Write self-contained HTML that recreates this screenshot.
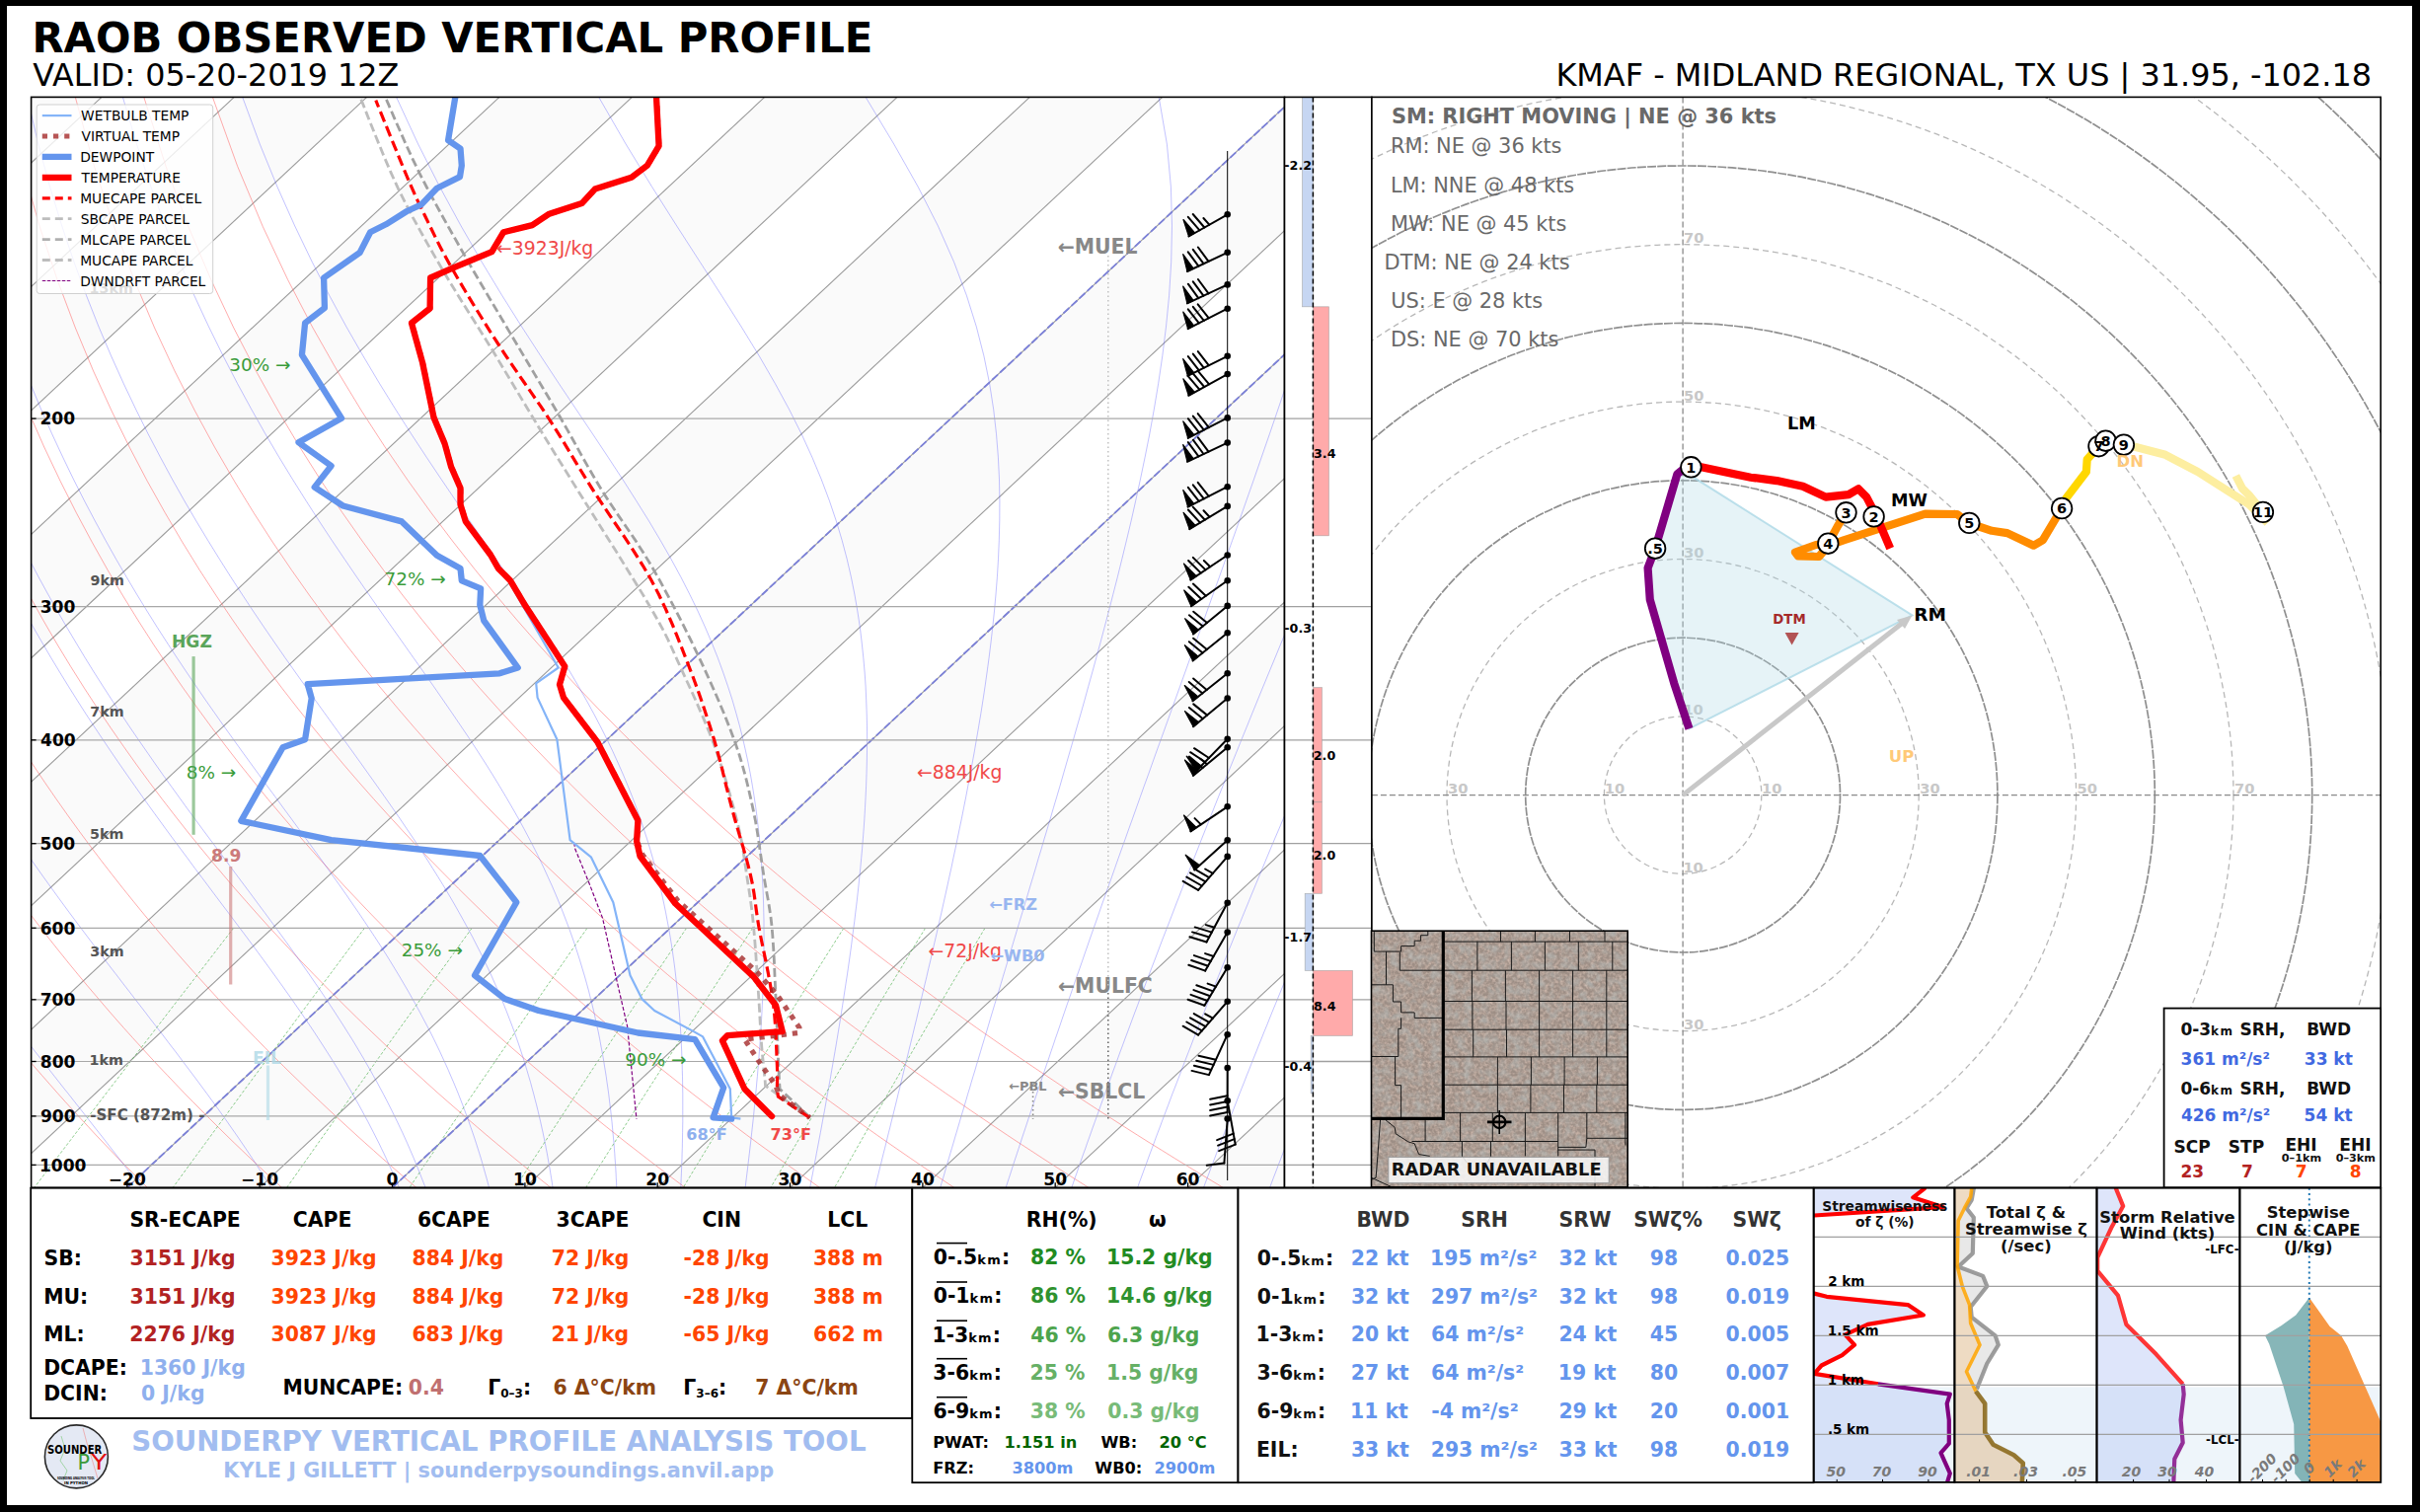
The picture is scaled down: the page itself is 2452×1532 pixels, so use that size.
<!DOCTYPE html>
<html><head><meta charset="utf-8"><title>RAOB Observed Vertical Profile</title>
<style>html,body{margin:0;padding:0;background:#000;overflow:hidden}svg{display:block}
text{font-family:"DejaVu Sans","Liberation Sans",sans-serif}</style></head>
<body><svg width="2452" height="1532" viewBox="0 0 2452 1532">
<rect width="2452" height="1532" fill="#000"/>
<rect x="7" y="6" width="2437" height="1519" fill="#fff"/>
<text x="32.4" y="53.3" font-size="41.8" fill="#000" font-weight="bold" >RAOB OBSERVED VERTICAL PROFILE</text>
<text x="33.3" y="87.3" font-size="31.8" fill="#000" >VALID: 05-20-2019 12Z</text>
<text x="2403.1" y="87.3" font-size="31.9" fill="#000" text-anchor="end" >KMAF - MIDLAND REGIONAL, TX US | 31.95, -102.18</text>
<clipPath id="cs"><rect x="31.6" y="98.4" width="1269.9" height="1104.8999999999999"/></clipPath>
<g clip-path="url(#cs)">
<rect x="31.6" y="98.4" width="1269.9" height="1104.9" fill="#fff" />
<polygon points="-2289.5,1203.3 -2155.2,1203.3 -971.8,98.4 -1106.2,98.4" fill="#fafafa"/>
<polygon points="-2020.8,1203.3 -1886.5,1203.3 -703.1,98.4 -837.5,98.4" fill="#fafafa"/>
<polygon points="-1752.1,1203.3 -1617.8,1203.3 -434.4,98.4 -568.8,98.4" fill="#fafafa"/>
<polygon points="-1483.4,1203.3 -1349.1,1203.3 -165.7,98.4 -300.1,98.4" fill="#fafafa"/>
<polygon points="-1214.7,1203.3 -1080.4,1203.3 103,98.4 -31.4,98.4" fill="#fafafa"/>
<polygon points="-946,1203.3 -811.7,1203.3 371.7,98.4 237.3,98.4" fill="#fafafa"/>
<polygon points="-677.3,1203.3 -543,1203.3 640.4,98.4 506,98.4" fill="#fafafa"/>
<polygon points="-408.6,1203.3 -274.3,1203.3 909.1,98.4 774.7,98.4" fill="#fafafa"/>
<polygon points="-139.9,1203.3 -5.6,1203.3 1177.8,98.4 1043.4,98.4" fill="#fafafa"/>
<polygon points="128.8,1203.3 263.1,1203.3 1446.5,98.4 1312.1,98.4" fill="#fafafa"/>
<polygon points="397.5,1203.3 531.8,1203.3 1715.2,98.4 1580.8,98.4" fill="#fafafa"/>
<polygon points="666.2,1203.3 800.5,1203.3 1983.9,98.4 1849.5,98.4" fill="#fafafa"/>
<polygon points="934.9,1203.3 1069.2,1203.3 2252.6,98.4 2118.2,98.4" fill="#fafafa"/>
<polygon points="1203.6,1203.3 1337.9,1203.3 2521.3,98.4 2386.9,98.4" fill="#fafafa"/>
<line x1="-2289.5" y1="1203.3" x2="-1106.2" y2="98.4" stroke="#9a9a9a" stroke-width="1.1" />
<line x1="-2155.2" y1="1203.3" x2="-971.8" y2="98.4" stroke="#9a9a9a" stroke-width="1.1" />
<line x1="-2020.8" y1="1203.3" x2="-837.5" y2="98.4" stroke="#9a9a9a" stroke-width="1.1" />
<line x1="-1886.5" y1="1203.3" x2="-703.1" y2="98.4" stroke="#9a9a9a" stroke-width="1.1" />
<line x1="-1752.1" y1="1203.3" x2="-568.8" y2="98.4" stroke="#9a9a9a" stroke-width="1.1" />
<line x1="-1617.8" y1="1203.3" x2="-434.4" y2="98.4" stroke="#9a9a9a" stroke-width="1.1" />
<line x1="-1483.4" y1="1203.3" x2="-300.1" y2="98.4" stroke="#9a9a9a" stroke-width="1.1" />
<line x1="-1349.1" y1="1203.3" x2="-165.7" y2="98.4" stroke="#9a9a9a" stroke-width="1.1" />
<line x1="-1214.7" y1="1203.3" x2="-31.4" y2="98.4" stroke="#9a9a9a" stroke-width="1.1" />
<line x1="-1080.4" y1="1203.3" x2="103" y2="98.4" stroke="#9a9a9a" stroke-width="1.1" />
<line x1="-946" y1="1203.3" x2="237.3" y2="98.4" stroke="#9a9a9a" stroke-width="1.1" />
<line x1="-811.7" y1="1203.3" x2="371.7" y2="98.4" stroke="#9a9a9a" stroke-width="1.1" />
<line x1="-677.3" y1="1203.3" x2="506" y2="98.4" stroke="#9a9a9a" stroke-width="1.1" />
<line x1="-543" y1="1203.3" x2="640.4" y2="98.4" stroke="#9a9a9a" stroke-width="1.1" />
<line x1="-408.6" y1="1203.3" x2="774.7" y2="98.4" stroke="#9a9a9a" stroke-width="1.1" />
<line x1="-274.3" y1="1203.3" x2="909.1" y2="98.4" stroke="#9a9a9a" stroke-width="1.1" />
<line x1="-139.9" y1="1203.3" x2="1043.4" y2="98.4" stroke="#9a9a9a" stroke-width="1.1" />
<line x1="-5.6" y1="1203.3" x2="1177.8" y2="98.4" stroke="#9a9a9a" stroke-width="1.1" />
<line x1="128.8" y1="1203.3" x2="1312.1" y2="98.4" stroke="#9a9a9a" stroke-width="1.1" />
<line x1="263.1" y1="1203.3" x2="1446.5" y2="98.4" stroke="#9a9a9a" stroke-width="1.1" />
<line x1="397.5" y1="1203.3" x2="1580.8" y2="98.4" stroke="#9a9a9a" stroke-width="1.1" />
<line x1="531.8" y1="1203.3" x2="1715.2" y2="98.4" stroke="#9a9a9a" stroke-width="1.1" />
<line x1="666.2" y1="1203.3" x2="1849.5" y2="98.4" stroke="#9a9a9a" stroke-width="1.1" />
<line x1="800.5" y1="1203.3" x2="1983.9" y2="98.4" stroke="#9a9a9a" stroke-width="1.1" />
<line x1="934.9" y1="1203.3" x2="2118.2" y2="98.4" stroke="#9a9a9a" stroke-width="1.1" />
<line x1="1069.2" y1="1203.3" x2="2252.6" y2="98.4" stroke="#9a9a9a" stroke-width="1.1" />
<line x1="1203.6" y1="1203.3" x2="2386.9" y2="98.4" stroke="#9a9a9a" stroke-width="1.1" />
<line x1="1337.9" y1="1203.3" x2="2521.3" y2="98.4" stroke="#9a9a9a" stroke-width="1.1" />
<polyline points="13,1203.3 6.4,1196 -0.4,1188.7 -7.2,1181.2 -14,1173.6 -20.8,1165.8 -27.7,1158 -34.7,1150 -41.7,1141.8 -48.7,1133.5" fill="none" stroke="#ff6a6a" stroke-width="0.8" stroke-opacity="0.7"/>
<polyline points="149.3,1203.3 142,1196 134.6,1188.7 127.3,1181.2 119.8,1173.6 112.3,1165.8 104.8,1158 97.2,1150 89.6,1141.8 81.9,1133.5 74.1,1125.1 66.3,1116.5 58.5,1107.8 50.6,1098.8 42.6,1089.7 34.6,1080.5 26.5,1071 18.4,1061.4 10.2,1051.5 2,1041.5 -6.4,1031.2 -14.7,1020.7 -23.2,1009.9 -31.7,998.9 -40.2,987.7 -48.9,976.1" fill="none" stroke="#ff6a6a" stroke-width="0.8" stroke-opacity="0.7"/>
<polyline points="285.5,1203.3 277.6,1196 269.7,1188.7 261.7,1181.2 253.6,1173.6 245.5,1165.8 237.3,1158 229.1,1150 220.8,1141.8 212.5,1133.5 204,1125.1 195.6,1116.5 187,1107.8 178.4,1098.8 169.8,1089.7 161,1080.5 152.2,1071 143.4,1061.4 134.4,1051.5 125.4,1041.5 116.3,1031.2 107.2,1020.7 98,1009.9 88.6,998.9 79.3,987.7 69.8,976.1 60.3,964.3 50.6,952.1 40.9,939.7 31.1,926.9 21.3,913.7 11.3,900.2 1.3,886.2 -8.9,871.9 -19.1,857.1 -29.4,841.8 -39.8,825.9" fill="none" stroke="#ff6a6a" stroke-width="0.8" stroke-opacity="0.7"/>
<polyline points="421.8,1203.3 413.3,1196 404.7,1188.7 396.1,1181.2 387.4,1173.6 378.7,1165.8 369.9,1158 361,1150 352,1141.8 343,1133.5 333.9,1125.1 324.8,1116.5 315.6,1107.8 306.3,1098.8 296.9,1089.7 287.5,1080.5 277.9,1071 268.3,1061.4 258.7,1051.5 248.9,1041.5 239,1031.2 229.1,1020.7 219.1,1009.9 209,998.9 198.8,987.7 188.5,976.1 178.1,964.3 167.6,952.1 157,939.7 146.3,926.9 135.5,913.7 124.6,900.2 113.6,886.2 102.5,871.9 91.3,857.1 80,841.8 68.5,825.9 57,809.6 45.3,792.6 33.5,775 21.6,756.7 9.6,737.7 -2.5,717.9 -14.7,697.2 -27,675.6 -39.4,652.9" fill="none" stroke="#ff6a6a" stroke-width="0.8" stroke-opacity="0.7"/>
<polyline points="558,1203.3 548.9,1196 539.7,1188.7 530.5,1181.2 521.2,1173.6 511.8,1165.8 502.4,1158 492.9,1150 483.3,1141.8 473.6,1133.5 463.9,1125.1 454,1116.5 444.1,1107.8 434.1,1098.8 424.1,1089.7 413.9,1080.5 403.7,1071 393.3,1061.4 382.9,1051.5 372.4,1041.5 361.7,1031.2 351,1020.7 340.2,1009.9 329.3,998.9 318.3,987.7 307.1,976.1 295.9,964.3 284.5,952.1 273,939.7 261.5,926.9 249.8,913.7 237.9,900.2 226,886.2 213.9,871.9 201.7,857.1 189.3,841.8 176.8,825.9 164.2,809.6 151.4,792.6 138.5,775 125.5,756.7 112.3,737.7 98.9,717.9 85.4,697.2 71.8,675.6 58,652.9 44.1,629 30.1,603.9 15.9,577.4 1.7,549.2 -12.7,519.3 -27.1,487.4 -41.5,453.1" fill="none" stroke="#ff6a6a" stroke-width="0.8" stroke-opacity="0.7"/>
<polyline points="694.2,1203.3 684.5,1196 674.8,1188.7 664.9,1181.2 655,1173.6 645,1165.8 634.9,1158 624.8,1150 614.5,1141.8 604.2,1133.5 593.8,1125.1 583.3,1116.5 572.7,1107.8 562,1098.8 551.2,1089.7 540.3,1080.5 529.4,1071 518.3,1061.4 507.1,1051.5 495.8,1041.5 484.4,1031.2 472.9,1020.7 461.3,1009.9 449.6,998.9 437.7,987.7 425.8,976.1 413.7,964.3 401.5,952.1 389.1,939.7 376.6,926.9 364,913.7 351.2,900.2 338.3,886.2 325.2,871.9 312,857.1 298.7,841.8 285.1,825.9 271.4,809.6 257.6,792.6 243.5,775 229.3,756.7 214.9,737.7 200.4,717.9 185.6,697.2 170.7,675.6 155.5,652.9 140.2,629 124.7,603.9 109,577.4 93.2,549.2 77.2,519.3 61.1,487.4 44.8,453.1 28.5,416.1 12.3,375.9 -3.9,332 -19.8,283.6 -35.2,229.6 -49.8,168.6" fill="none" stroke="#ff6a6a" stroke-width="0.8" stroke-opacity="0.7"/>
<polyline points="830.5,1203.3 820.2,1196 809.8,1188.7 799.3,1181.2 788.8,1173.6 778.2,1165.8 767.4,1158 756.6,1150 745.7,1141.8 734.8,1133.5 723.7,1125.1 712.5,1116.5 701.2,1107.8 689.8,1098.8 678.4,1089.7 666.8,1080.5 655.1,1071 643.3,1061.4 631.3,1051.5 619.3,1041.5 607.1,1031.2 594.9,1020.7 582.4,1009.9 569.9,998.9 557.2,987.7 544.4,976.1 531.5,964.3 518.4,952.1 505.2,939.7 491.8,926.9 478.2,913.7 464.5,900.2 450.7,886.2 436.6,871.9 422.4,857.1 408,841.8 393.4,825.9 378.7,809.6 363.7,792.6 348.5,775 333.2,756.7 317.6,737.7 301.8,717.9 285.7,697.2 269.5,675.6 253,652.9 236.3,629 219.3,603.9 202.1,577.4 184.7,549.2 167.1,519.3 149.2,487.4 131.2,453.1 113,416.1 94.6,375.9 76.3,332 58.1,283.6 40.2,229.6 22.9,168.6 6.7,98.4" fill="none" stroke="#ff6a6a" stroke-width="0.8" stroke-opacity="0.7"/>
<polyline points="966.7,1203.3 955.8,1196 944.8,1188.7 933.7,1181.2 922.6,1173.6 911.3,1165.8 900,1158 888.5,1150 877,1141.8 865.3,1133.5 853.6,1125.1 841.7,1116.5 829.8,1107.8 817.7,1098.8 805.5,1089.7 793.2,1080.5 780.8,1071 768.2,1061.4 755.6,1051.5 742.8,1041.5 729.8,1031.2 716.8,1020.7 703.6,1009.9 690.2,998.9 676.7,987.7 663.1,976.1 649.3,964.3 635.3,952.1 621.2,939.7 606.9,926.9 592.5,913.7 577.8,900.2 563,886.2 548,871.9 532.8,857.1 517.4,841.8 501.7,825.9 485.9,809.6 469.8,792.6 453.5,775 437,756.7 420.2,737.7 403.2,717.9 385.9,697.2 368.3,675.6 350.5,652.9 332.4,629 314,603.9 295.3,577.4 276.2,549.2 256.9,519.3 237.4,487.4 217.5,453.1 197.4,416.1 177,375.9 156.5,332 136,283.6 115.5,229.6 95.5,168.6 76.3,98.4" fill="none" stroke="#ff6a6a" stroke-width="0.8" stroke-opacity="0.7"/>
<polyline points="1102.9,1203.3 1091.4,1196 1079.8,1188.7 1068.2,1181.2 1056.4,1173.6 1044.5,1165.8 1032.5,1158 1020.4,1150 1008.2,1141.8 995.9,1133.5 983.5,1125.1 971,1116.5 958.3,1107.8 945.5,1098.8 932.6,1089.7 919.6,1080.5 906.5,1071 893.2,1061.4 879.8,1051.5 866.2,1041.5 852.5,1031.2 838.7,1020.7 824.7,1009.9 810.5,998.9 796.2,987.7 781.8,976.1 767.1,964.3 752.3,952.1 737.3,939.7 722.1,926.9 706.7,913.7 691.1,900.2 675.4,886.2 659.4,871.9 643.1,857.1 626.7,841.8 610,825.9 593.1,809.6 576,792.6 558.5,775 540.8,756.7 522.9,737.7 504.6,717.9 486,697.2 467.2,675.6 448,652.9 428.5,629 408.6,603.9 388.4,577.4 367.8,549.2 346.8,519.3 325.5,487.4 303.8,453.1 281.8,416.1 259.4,375.9 236.7,332 213.9,283.6 190.9,229.6 168.1,168.6 145.8,98.4" fill="none" stroke="#ff6a6a" stroke-width="0.8" stroke-opacity="0.7"/>
<polyline points="1239.2,1203.3 1227.1,1196 1214.9,1188.7 1202.6,1181.2 1190.2,1173.6 1177.7,1165.8 1165,1158 1152.3,1150 1139.4,1141.8 1126.5,1133.5 1113.4,1125.1 1100.2,1116.5 1086.9,1107.8 1073.4,1098.8 1059.8,1089.7 1046.1,1080.5 1032.2,1071 1018.2,1061.4 1004,1051.5 989.7,1041.5 975.2,1031.2 960.6,1020.7 945.8,1009.9 930.9,998.9 915.7,987.7 900.4,976.1 884.9,964.3 869.2,952.1 853.3,939.7 837.3,926.9 821,913.7 804.4,900.2 787.7,886.2 770.7,871.9 753.5,857.1 736.1,841.8 718.3,825.9 700.4,809.6 682.1,792.6 663.5,775 644.7,756.7 625.5,737.7 606,717.9 586.2,697.2 566,675.6 545.5,652.9 524.5,629 503.2,603.9 481.5,577.4 459.3,549.2 436.7,519.3 413.7,487.4 390.2,453.1 366.2,416.1 341.8,375.9 316.9,332 291.7,283.6 266.3,229.6 240.7,168.6 215.4,98.4" fill="none" stroke="#ff6a6a" stroke-width="0.8" stroke-opacity="0.7"/>
<polyline points="9.8,1203.3 5.9,1198.5 2,1193.7 -2,1188.8 -5.9,1183.8 -10,1178.8 -14,1173.7 -18.1,1168.6 -22.3,1163.5 -26.4,1158.2 -30.6,1152.9 -34.9,1147.6 -39.2,1142.2 -43.5,1136.7 -47.9,1131.2 -52.3,1125.6 -56.7,1119.9 -61.2,1114.2 -65.7,1108.3 -70.2,1102.5 -74.8,1096.5 -79.4,1090.5 -84,1084.4 -88.7,1078.2 -93.4,1071.9 -98.1,1065.5 -102.9,1059.1 -107.7,1052.5 -112.6,1045.9 -117.4,1039.2 -122.3,1032.4 -127.3,1025.4 -132.2,1018.4 -137.2,1011.3 -142.2,1004 -147.3,996.7 -152.4,989.2 -157.5,981.6 -162.6,973.9 -167.8,966 -173,958 -178.2,949.9 -183.5,941.7 -188.8,933.3 -194.1,924.7 -199.4,916 -204.7,907.1 -210.1,898 -215.5,888.8 -221,879.4 -226.4,869.7 -231.9,859.9 -237.4,849.9 -242.9,839.7 -248.4,829.2 -253.9,818.5 -259.5,807.5 -265.1,796.3 -270.7,784.8 -276.3,773 -281.9,760.9 -287.5,748.5 -293.2,735.8 -298.8,722.7 -304.4,709.2 -310,695.3 -315.7,681 -321.3,666.3 -326.8,651 -332.4,635.3 -337.9,619 -343.4,602.2 -348.9,584.7 -354.2,566.5 -359.6,547.6 -364.8,527.9 -369.9,507.4 -374.9,485.9 -379.7,463.3 -384.4,439.7 -388.8,414.8 -393,388.5 -396.8,360.6 -400.3,331 -403.4,299.4 -405.8,265.5 -407.6,228.9 -408.5,189.3 -408.4,146.1 -406.8,98.4" fill="none" stroke="#5050ff" stroke-width="0.7" stroke-opacity="0.5"/>
<polyline points="143.1,1203.3 139.5,1198.5 135.8,1193.7 132.1,1188.8 128.3,1183.8 124.4,1178.8 120.5,1173.7 116.6,1168.6 112.6,1163.5 108.5,1158.2 104.4,1152.9 100.2,1147.6 95.9,1142.2 91.6,1136.7 87.3,1131.2 82.9,1125.6 78.4,1119.9 73.9,1114.2 69.3,1108.3 64.6,1102.5 59.9,1096.5 55.2,1090.5 50.4,1084.4 45.5,1078.2 40.6,1071.9 35.6,1065.5 30.6,1059.1 25.5,1052.5 20.4,1045.9 15.2,1039.2 10,1032.4 4.7,1025.4 -0.6,1018.4 -6,1011.3 -11.4,1004 -16.9,996.7 -22.4,989.2 -28,981.6 -33.6,973.9 -39.2,966 -44.9,958 -50.7,949.9 -56.5,941.7 -62.3,933.3 -68.2,924.7 -74.1,916 -80.1,907.1 -86.1,898 -92.1,888.8 -98.2,879.4 -104.3,869.7 -110.5,859.9 -116.7,849.9 -122.9,839.7 -129.2,829.2 -135.5,818.5 -141.8,807.5 -148.2,796.3 -154.6,784.8 -161,773 -167.4,760.9 -173.9,748.5 -180.4,735.8 -186.9,722.7 -193.4,709.2 -200,695.3 -206.6,681 -213.1,666.3 -219.7,651 -226.3,635.3 -232.9,619 -239.4,602.2 -246,584.7 -252.5,566.5 -258.9,547.6 -265.4,527.9 -271.7,507.4 -278,485.9 -284.1,463.3 -290.1,439.7 -296,414.8 -301.6,388.5 -307,360.6 -312.1,331 -316.9,299.4 -321.1,265.5 -324.7,228.9 -327.6,189.3 -329.5,146.1 -330.2,98.4" fill="none" stroke="#5050ff" stroke-width="0.7" stroke-opacity="0.5"/>
<polyline points="274.6,1203.3 271.6,1198.5 268.6,1193.7 265.4,1188.8 262.2,1183.8 259,1178.8 255.6,1173.7 252.2,1168.6 248.8,1163.5 245.2,1158.2 241.6,1152.9 237.9,1147.6 234.1,1142.2 230.3,1136.7 226.4,1131.2 222.4,1125.6 218.3,1119.9 214.1,1114.2 209.8,1108.3 205.5,1102.5 201.1,1096.5 196.6,1090.5 192,1084.4 187.3,1078.2 182.6,1071.9 177.8,1065.5 172.8,1059.1 167.8,1052.5 162.8,1045.9 157.6,1039.2 152.3,1032.4 147,1025.4 141.6,1018.4 136.1,1011.3 130.5,1004 124.8,996.7 119.1,989.2 113.2,981.6 107.3,973.9 101.4,966 95.3,958 89.2,949.9 83,941.7 76.7,933.3 70.3,924.7 63.9,916 57.4,907.1 50.8,898 44.2,888.8 37.5,879.4 30.7,869.7 23.9,859.9 17,849.9 10.1,839.7 3.1,829.2 -4,818.5 -11.1,807.5 -18.3,796.3 -25.5,784.8 -32.8,773 -40.2,760.9 -47.6,748.5 -55,735.8 -62.5,722.7 -70,709.2 -77.6,695.3 -85.2,681 -92.8,666.3 -100.5,651 -108.2,635.3 -115.9,619 -123.7,602.2 -131.4,584.7 -139.2,566.5 -147,547.6 -154.7,527.9 -162.4,507.4 -170.1,485.9 -177.7,463.3 -185.3,439.7 -192.7,414.8 -200,388.5 -207.1,360.6 -214,331 -220.6,299.4 -226.8,265.5 -232.5,228.9 -237.6,189.3 -241.8,146.1 -245,98.4" fill="none" stroke="#5050ff" stroke-width="0.7" stroke-opacity="0.5"/>
<polyline points="404.4,1203.3 402.4,1198.5 400.3,1193.7 398.1,1188.8 395.9,1183.8 393.6,1178.8 391.3,1173.7 388.9,1168.6 386.4,1163.5 383.9,1158.2 381.2,1152.9 378.5,1147.6 375.7,1142.2 372.9,1136.7 369.9,1131.2 366.9,1125.6 363.8,1119.9 360.5,1114.2 357.2,1108.3 353.8,1102.5 350.3,1096.5 346.7,1090.5 343,1084.4 339.2,1078.2 335.3,1071.9 331.2,1065.5 327.1,1059.1 322.8,1052.5 318.5,1045.9 314,1039.2 309.4,1032.4 304.6,1025.4 299.7,1018.4 294.8,1011.3 289.6,1004 284.4,996.7 279,989.2 273.5,981.6 267.9,973.9 262.1,966 256.2,958 250.2,949.9 244,941.7 237.7,933.3 231.3,924.7 224.7,916 218,907.1 211.2,898 204.3,888.8 197.2,879.4 190.1,869.7 182.8,859.9 175.3,849.9 167.8,839.7 160.2,829.2 152.4,818.5 144.5,807.5 136.6,796.3 128.5,784.8 120.3,773 112,760.9 103.7,748.5 95.2,735.8 86.6,722.7 78,709.2 69.3,695.3 60.5,681 51.6,666.3 42.7,651 33.6,635.3 24.6,619 15.4,602.2 6.2,584.7 -3.1,566.5 -12.4,547.6 -21.7,527.9 -31.1,507.4 -40.4,485.9 -49.8,463.3 -59.2,439.7 -68.5,414.8 -77.8,388.5 -86.9,360.6 -95.9,331 -104.8,299.4 -113.3,265.5 -121.5,228.9 -129.3,189.3 -136.3,146.1 -142.5,98.4" fill="none" stroke="#5050ff" stroke-width="0.7" stroke-opacity="0.5"/>
<polyline points="431,1203.3 429.2,1198.5 427.3,1193.7 425.4,1188.8 423.4,1183.8 421.4,1178.8 419.3,1173.7 417.1,1168.6 414.9,1163.5 412.6,1158.2 410.2,1152.9 407.8,1147.6 405.2,1142.2 402.6,1136.7 399.9,1131.2 397.2,1125.6 394.3,1119.9 391.4,1114.2 388.3,1108.3 385.2,1102.5 382,1096.5 378.6,1090.5 375.2,1084.4 371.6,1078.2 368,1071.9 364.2,1065.5 360.4,1059.1 356.4,1052.5 352.2,1045.9 348,1039.2 343.6,1032.4 339.1,1025.4 334.5,1018.4 329.8,1011.3 324.9,1004 319.8,996.7 314.7,989.2 309.4,981.6 303.9,973.9 298.3,966 292.6,958 286.7,949.9 280.7,941.7 274.5,933.3 268.2,924.7 261.7,916 255.1,907.1 248.3,898 241.4,888.8 234.4,879.4 227.2,869.7 219.9,859.9 212.4,849.9 204.8,839.7 197.1,829.2 189.2,818.5 181.3,807.5 173.2,796.3 164.9,784.8 156.6,773 148.2,760.9 139.6,748.5 130.9,735.8 122.2,722.7 113.3,709.2 104.3,695.3 95.2,681 86.1,666.3 76.9,651 67.5,635.3 58.1,619 48.7,602.2 39.1,584.7 29.5,566.5 19.8,547.6 10.1,527.9 0.4,507.4 -9.4,485.9 -19.2,463.3 -29,439.7 -38.8,414.8 -48.5,388.5 -58.2,360.6 -67.7,331 -77.1,299.4 -86.2,265.5 -95,228.9 -103.3,189.3 -111.1,146.1 -118,98.4" fill="none" stroke="#5050ff" stroke-width="0.7" stroke-opacity="0.5"/>
<polyline points="495.5,1203.3 494.3,1198.5 493,1193.7 491.6,1188.8 490.2,1183.8 488.8,1178.8 487.3,1173.7 485.7,1168.6 484.1,1163.5 482.4,1158.2 480.7,1152.9 478.9,1147.6 477,1142.2 475.1,1136.7 473.1,1131.2 471,1125.6 468.9,1119.9 466.7,1114.2 464.4,1108.3 462,1102.5 459.5,1096.5 456.9,1090.5 454.3,1084.4 451.5,1078.2 448.6,1071.9 445.7,1065.5 442.6,1059.1 439.4,1052.5 436.1,1045.9 432.6,1039.2 429,1032.4 425.3,1025.4 421.5,1018.4 417.5,1011.3 413.4,1004 409.1,996.7 404.7,989.2 400.1,981.6 395.4,973.9 390.5,966 385.4,958 380.1,949.9 374.7,941.7 369.1,933.3 363.3,924.7 357.3,916 351.2,907.1 344.8,898 338.2,888.8 331.5,879.4 324.6,869.7 317.4,859.9 310.1,849.9 302.6,839.7 294.9,829.2 287,818.5 279,807.5 270.7,796.3 262.3,784.8 253.7,773 244.9,760.9 236,748.5 226.9,735.8 217.7,722.7 208.2,709.2 198.7,695.3 189,681 179.2,666.3 169.2,651 159.1,635.3 148.9,619 138.6,602.2 128.2,584.7 117.6,566.5 107,547.6 96.3,527.9 85.5,507.4 74.6,485.9 63.7,463.3 52.7,439.7 41.7,414.8 30.7,388.5 19.8,360.6 8.8,331 -2,299.4 -12.6,265.5 -23.1,228.9 -33.1,189.3 -42.7,146.1 -51.6,98.4" fill="none" stroke="#5050ff" stroke-width="0.7" stroke-opacity="0.5"/>
<polyline points="560.1,1203.3 559.4,1198.5 558.6,1193.7 557.8,1188.8 557,1183.8 556.1,1178.8 555.2,1173.7 554.3,1168.6 553.3,1163.5 552.3,1158.2 551.2,1152.9 550.1,1147.6 548.9,1142.2 547.7,1136.7 546.4,1131.2 545.1,1125.6 543.7,1119.9 542.2,1114.2 540.7,1108.3 539.1,1102.5 537.5,1096.5 535.7,1090.5 533.9,1084.4 532,1078.2 530.1,1071.9 528,1065.5 525.9,1059.1 523.6,1052.5 521.3,1045.9 518.8,1039.2 516.2,1032.4 513.5,1025.4 510.7,1018.4 507.8,1011.3 504.7,1004 501.5,996.7 498.2,989.2 494.7,981.6 491,973.9 487.2,966 483.1,958 479,949.9 474.6,941.7 470,933.3 465.2,924.7 460.3,916 455.1,907.1 449.7,898 444,888.8 438.1,879.4 432,869.7 425.6,859.9 419,849.9 412.1,839.7 405,829.2 397.6,818.5 389.9,807.5 382,796.3 373.8,784.8 365.4,773 356.7,760.9 347.7,748.5 338.5,735.8 329,722.7 319.3,709.2 309.4,695.3 299.2,681 288.8,666.3 278.2,651 267.4,635.3 256.4,619 245.3,602.2 233.9,584.7 222.4,566.5 210.7,547.6 198.8,527.9 186.8,507.4 174.7,485.9 162.5,463.3 150.1,439.7 137.7,414.8 125.2,388.5 112.6,360.6 100,331 87.5,299.4 75,265.5 62.7,228.9 50.6,189.3 38.8,146.1 27.6,98.4" fill="none" stroke="#5050ff" stroke-width="0.7" stroke-opacity="0.5"/>
<polyline points="624.8,1203.3 624.6,1198.5 624.3,1193.7 624.1,1188.8 623.8,1183.8 623.5,1178.8 623.1,1173.7 622.8,1168.6 622.4,1163.5 622,1158.2 621.5,1152.9 621,1147.6 620.5,1142.2 620,1136.7 619.4,1131.2 618.8,1125.6 618.1,1119.9 617.4,1114.2 616.7,1108.3 615.9,1102.5 615,1096.5 614.2,1090.5 613.2,1084.4 612.2,1078.2 611.2,1071.9 610,1065.5 608.8,1059.1 607.6,1052.5 606.3,1045.9 604.8,1039.2 603.3,1032.4 601.8,1025.4 600.1,1018.4 598.3,1011.3 596.5,1004 594.5,996.7 592.4,989.2 590.1,981.6 587.8,973.9 585.3,966 582.7,958 579.9,949.9 577,941.7 573.8,933.3 570.5,924.7 567.1,916 563.4,907.1 559.5,898 555.3,888.8 551,879.4 546.4,869.7 541.5,859.9 536.3,849.9 530.9,839.7 525.2,829.2 519.1,818.5 512.7,807.5 506,796.3 499,784.8 491.6,773 483.8,760.9 475.7,748.5 467.1,735.8 458.2,722.7 448.9,709.2 439.3,695.3 429.2,681 418.8,666.3 408,651 396.9,635.3 385.4,619 373.6,602.2 361.5,584.7 349.1,566.5 336.3,547.6 323.3,527.9 310.1,507.4 296.6,485.9 282.8,463.3 268.9,439.7 254.8,414.8 240.5,388.5 226.1,360.6 211.5,331 196.8,299.4 182.1,265.5 167.5,228.9 152.9,189.3 138.5,146.1 124.4,98.4" fill="none" stroke="#5050ff" stroke-width="0.7" stroke-opacity="0.5"/>
<polyline points="689.8,1203.3 690,1198.5 690.2,1193.7 690.4,1188.8 690.6,1183.8 690.8,1178.8 691,1173.7 691.1,1168.6 691.3,1163.5 691.4,1158.2 691.5,1152.9 691.6,1147.6 691.7,1142.2 691.8,1136.7 691.8,1131.2 691.8,1125.6 691.8,1119.9 691.8,1114.2 691.8,1108.3 691.7,1102.5 691.6,1096.5 691.5,1090.5 691.3,1084.4 691.2,1078.2 690.9,1071.9 690.7,1065.5 690.4,1059.1 690.1,1052.5 689.7,1045.9 689.3,1039.2 688.8,1032.4 688.3,1025.4 687.7,1018.4 687,1011.3 686.3,1004 685.5,996.7 684.7,989.2 683.8,981.6 682.8,973.9 681.7,966 680.5,958 679.2,949.9 677.8,941.7 676.2,933.3 674.6,924.7 672.8,916 670.9,907.1 668.8,898 666.5,888.8 664.1,879.4 661.4,869.7 658.6,859.9 655.5,849.9 652.2,839.7 648.7,829.2 644.8,818.5 640.7,807.5 636.2,796.3 631.4,784.8 626.2,773 620.7,760.9 614.7,748.5 608.3,735.8 601.4,722.7 594,709.2 586.1,695.3 577.7,681 568.7,666.3 559.2,651 549.1,635.3 538.4,619 527,602.2 515.1,584.7 502.7,566.5 489.6,547.6 476,527.9 461.9,507.4 447.3,485.9 432.2,463.3 416.7,439.7 400.8,414.8 384.5,388.5 367.9,360.6 350.9,331 333.7,299.4 316.3,265.5 298.7,228.9 281,189.3 263.3,146.1 245.7,98.4" fill="none" stroke="#5050ff" stroke-width="0.7" stroke-opacity="0.5"/>
<polyline points="755.1,1203.3 755.7,1198.5 756.3,1193.7 756.9,1188.8 757.5,1183.8 758.1,1178.8 758.7,1173.7 759.3,1168.6 759.9,1163.5 760.5,1158.2 761.1,1152.9 761.7,1147.6 762.3,1142.2 762.9,1136.7 763.5,1131.2 764,1125.6 764.6,1119.9 765.2,1114.2 765.7,1108.3 766.3,1102.5 766.8,1096.5 767.4,1090.5 767.9,1084.4 768.4,1078.2 768.9,1071.9 769.4,1065.5 769.9,1059.1 770.3,1052.5 770.8,1045.9 771.2,1039.2 771.6,1032.4 772,1025.4 772.3,1018.4 772.7,1011.3 773,1004 773.2,996.7 773.5,989.2 773.7,981.6 773.8,973.9 774,966 774,958 774.1,949.9 774,941.7 774,933.3 773.8,924.7 773.6,916 773.3,907.1 772.9,898 772.4,888.8 771.9,879.4 771.2,869.7 770.4,859.9 769.5,849.9 768.4,839.7 767.2,829.2 765.8,818.5 764.2,807.5 762.4,796.3 760.4,784.8 758.1,773 755.5,760.9 752.7,748.5 749.5,735.8 745.9,722.7 742,709.2 737.5,695.3 732.6,681 727.2,666.3 721.1,651 714.4,635.3 707,619 698.8,602.2 689.9,584.7 680,566.5 669.2,547.6 657.5,527.9 644.7,507.4 631,485.9 616.2,463.3 600.5,439.7 583.8,414.8 566.2,388.5 547.8,360.6 528.6,331 508.7,299.4 488.2,265.5 467.1,228.9 445.6,189.3 423.7,146.1 401.6,98.4" fill="none" stroke="#5050ff" stroke-width="0.7" stroke-opacity="0.5"/>
<polyline points="820.7,1203.3 821.6,1198.5 822.5,1193.7 823.5,1188.8 824.4,1183.8 825.4,1178.8 826.4,1173.7 827.3,1168.6 828.3,1163.5 829.3,1158.2 830.3,1152.9 831.3,1147.6 832.3,1142.2 833.3,1136.7 834.3,1131.2 835.4,1125.6 836.4,1119.9 837.4,1114.2 838.5,1108.3 839.5,1102.5 840.6,1096.5 841.7,1090.5 842.7,1084.4 843.8,1078.2 844.9,1071.9 846,1065.5 847.1,1059.1 848.2,1052.5 849.3,1045.9 850.4,1039.2 851.5,1032.4 852.6,1025.4 853.7,1018.4 854.8,1011.3 855.9,1004 857,996.7 858.2,989.2 859.3,981.6 860.4,973.9 861.5,966 862.6,958 863.6,949.9 864.7,941.7 865.8,933.3 866.8,924.7 867.9,916 868.9,907.1 869.9,898 870.8,888.8 871.8,879.4 872.7,869.7 873.6,859.9 874.4,849.9 875.2,839.7 875.9,829.2 876.5,818.5 877.1,807.5 877.6,796.3 878,784.8 878.3,773 878.5,760.9 878.6,748.5 878.5,735.8 878.2,722.7 877.7,709.2 877.1,695.3 876.1,681 874.8,666.3 873.2,651 871.3,635.3 868.8,619 865.9,602.2 862.4,584.7 858.2,566.5 853.2,547.6 847.3,527.9 840.4,507.4 832.3,485.9 822.9,463.3 812.1,439.7 799.6,414.8 785.3,388.5 769.2,360.6 751.1,331 731.1,299.4 709.3,265.5 685.7,228.9 660.6,189.3 634.2,146.1 606.7,98.4" fill="none" stroke="#5050ff" stroke-width="0.7" stroke-opacity="0.5"/>
<polyline points="886.6,1203.3 887.8,1198.5 889,1193.7 890.2,1188.8 891.4,1183.8 892.7,1178.8 893.9,1173.7 895.2,1168.6 896.5,1163.5 897.8,1158.2 899.1,1152.9 900.4,1147.6 901.8,1142.2 903.1,1136.7 904.5,1131.2 905.9,1125.6 907.3,1119.9 908.7,1114.2 910.1,1108.3 911.6,1102.5 913,1096.5 914.5,1090.5 916,1084.4 917.5,1078.2 919.1,1071.9 920.6,1065.5 922.2,1059.1 923.8,1052.5 925.4,1045.9 927,1039.2 928.7,1032.4 930.3,1025.4 932,1018.4 933.7,1011.3 935.4,1004 937.2,996.7 939,989.2 940.7,981.6 942.6,973.9 944.4,966 946.2,958 948.1,949.9 950,941.7 951.9,933.3 953.9,924.7 955.8,916 957.8,907.1 959.8,898 961.8,888.8 963.9,879.4 965.9,869.7 968,859.9 970.1,849.9 972.2,839.7 974.4,829.2 976.5,818.5 978.7,807.5 980.8,796.3 983,784.8 985.2,773 987.4,760.9 989.5,748.5 991.7,735.8 993.9,722.7 996,709.2 998.1,695.3 1000.1,681 1002.1,666.3 1004,651 1005.8,635.3 1007.5,619 1009,602.2 1010.4,584.7 1011.5,566.5 1012.3,547.6 1012.8,527.9 1012.9,507.4 1012.5,485.9 1011.4,463.3 1009.5,439.7 1006.7,414.8 1002.6,388.5 996.9,360.6 989.3,331 979.4,299.4 966.6,265.5 950.4,228.9 930.2,189.3 905.8,146.1 877.1,98.4" fill="none" stroke="#5050ff" stroke-width="0.7" stroke-opacity="0.5"/>
<polyline points="952.7,1203.3 954.1,1198.5 955.6,1193.7 957,1188.8 958.4,1183.8 959.9,1178.8 961.4,1173.7 962.9,1168.6 964.4,1163.5 966,1158.2 967.5,1152.9 969.1,1147.6 970.7,1142.2 972.3,1136.7 973.9,1131.2 975.6,1125.6 977.3,1119.9 979,1114.2 980.7,1108.3 982.5,1102.5 984.2,1096.5 986,1090.5 987.9,1084.4 989.7,1078.2 991.6,1071.9 993.5,1065.5 995.4,1059.1 997.4,1052.5 999.4,1045.9 1001.4,1039.2 1003.4,1032.4 1005.5,1025.4 1007.6,1018.4 1009.8,1011.3 1012,1004 1014.2,996.7 1016.4,989.2 1018.7,981.6 1021,973.9 1023.4,966 1025.8,958 1028.2,949.9 1030.7,941.7 1033.2,933.3 1035.8,924.7 1038.4,916 1041.1,907.1 1043.8,898 1046.6,888.8 1049.4,879.4 1052.2,869.7 1055.2,859.9 1058.1,849.9 1061.2,839.7 1064.3,829.2 1067.4,818.5 1070.7,807.5 1074,796.3 1077.3,784.8 1080.7,773 1084.2,760.9 1087.8,748.5 1091.4,735.8 1095.2,722.7 1099,709.2 1102.8,695.3 1106.8,681 1110.8,666.3 1115,651 1119.2,635.3 1123.5,619 1127.8,602.2 1132.3,584.7 1136.8,566.5 1141.4,547.6 1146.1,527.9 1150.7,507.4 1155.4,485.9 1160.1,463.3 1164.8,439.7 1169.3,414.8 1173.7,388.5 1177.8,360.6 1181.5,331 1184.6,299.4 1186.7,265.5 1187.5,228.9 1186.4,189.3 1182.4,146.1 1174.2,98.4" fill="none" stroke="#5050ff" stroke-width="0.7" stroke-opacity="0.5"/>
<polyline points="1019.2,1203.3 1020.7,1198.5 1022.3,1193.7 1023.9,1188.8 1025.5,1183.8 1027.1,1178.8 1028.8,1173.7 1030.5,1168.6 1032.2,1163.5 1033.9,1158.2 1035.6,1152.9 1037.4,1147.6 1039.2,1142.2 1041,1136.7 1042.8,1131.2 1044.7,1125.6 1046.6,1119.9 1048.5,1114.2 1050.5,1108.3 1052.4,1102.5 1054.4,1096.5 1056.5,1090.5 1058.5,1084.4 1060.6,1078.2 1062.8,1071.9 1064.9,1065.5 1067.1,1059.1 1069.3,1052.5 1071.6,1045.9 1073.9,1039.2 1076.2,1032.4 1078.6,1025.4 1081,1018.4 1083.5,1011.3 1086,1004 1088.5,996.7 1091.1,989.2 1093.8,981.6 1096.5,973.9 1099.2,966 1102,958 1104.8,949.9 1107.7,941.7 1110.7,933.3 1113.7,924.7 1116.7,916 1119.9,907.1 1123.1,898 1126.4,888.8 1129.7,879.4 1133.1,869.7 1136.6,859.9 1140.2,849.9 1143.8,839.7 1147.6,829.2 1151.4,818.5 1155.3,807.5 1159.3,796.3 1163.5,784.8 1167.7,773 1172,760.9 1176.5,748.5 1181.1,735.8 1185.8,722.7 1190.7,709.2 1195.7,695.3 1200.8,681 1206.1,666.3 1211.6,651 1217.3,635.3 1223.1,619 1229.1,602.2 1235.4,584.7 1241.9,566.5 1248.6,547.6 1255.6,527.9 1262.8,507.4 1270.4,485.9 1278.2,463.3 1286.4,439.7 1294.9,414.8 1303.8,388.5 1313.1,360.6 1322.8,331 1332.9,299.4 1343.4,265.5 1354.4,228.9 1365.6,189.3 1377.2,146.1 1388.7,98.4" fill="none" stroke="#5050ff" stroke-width="0.7" stroke-opacity="0.5"/>
<polyline points="1085.8,1203.3 1087.5,1198.5 1089.1,1193.7 1090.9,1188.8 1092.6,1183.8 1094.3,1178.8 1096.1,1173.7 1097.9,1168.6 1099.8,1163.5 1101.6,1158.2 1103.5,1152.9 1105.4,1147.6 1107.3,1142.2 1109.3,1136.7 1111.3,1131.2 1113.3,1125.6 1115.3,1119.9 1117.4,1114.2 1119.5,1108.3 1121.6,1102.5 1123.8,1096.5 1126,1090.5 1128.2,1084.4 1130.5,1078.2 1132.8,1071.9 1135.1,1065.5 1137.5,1059.1 1139.9,1052.5 1142.4,1045.9 1144.9,1039.2 1147.4,1032.4 1150,1025.4 1152.7,1018.4 1155.3,1011.3 1158.1,1004 1160.8,996.7 1163.7,989.2 1166.5,981.6 1169.5,973.9 1172.5,966 1175.5,958 1178.6,949.9 1181.8,941.7 1185.1,933.3 1188.4,924.7 1191.7,916 1195.2,907.1 1198.7,898 1202.3,888.8 1206,879.4 1209.8,869.7 1213.7,859.9 1217.6,849.9 1221.7,839.7 1225.9,829.2 1230.1,818.5 1234.5,807.5 1239,796.3 1243.6,784.8 1248.4,773 1253.3,760.9 1258.3,748.5 1263.5,735.8 1268.8,722.7 1274.3,709.2 1280,695.3 1285.9,681 1292,666.3 1298.3,651 1304.8,635.3 1311.6,619 1318.6,602.2 1325.9,584.7 1333.5,566.5 1341.5,547.6 1349.8,527.9 1358.4,507.4 1367.5,485.9 1377.1,463.3 1387.2,439.7 1397.8,414.8 1409,388.5 1420.9,360.6 1433.5,331 1447,299.4 1461.4,265.5 1477,228.9 1493.7,189.3 1511.9,146.1 1531.8,98.4" fill="none" stroke="#5050ff" stroke-width="0.7" stroke-opacity="0.5"/>
<polyline points="1152.6,1203.3 1154.3,1198.5 1156.1,1193.7 1157.9,1188.8 1159.7,1183.8 1161.6,1178.8 1163.4,1173.7 1165.3,1168.6 1167.2,1163.5 1169.2,1158.2 1171.1,1152.9 1173.1,1147.6 1175.2,1142.2 1177.2,1136.7 1179.3,1131.2 1181.4,1125.6 1183.6,1119.9 1185.7,1114.2 1187.9,1108.3 1190.2,1102.5 1192.5,1096.5 1194.8,1090.5 1197.1,1084.4 1199.5,1078.2 1201.9,1071.9 1204.4,1065.5 1206.9,1059.1 1209.4,1052.5 1212,1045.9 1214.7,1039.2 1217.3,1032.4 1220.1,1025.4 1222.8,1018.4 1225.7,1011.3 1228.5,1004 1231.5,996.7 1234.5,989.2 1237.5,981.6 1240.6,973.9 1243.8,966 1247,958 1250.3,949.9 1253.6,941.7 1257.1,933.3 1260.6,924.7 1264.2,916 1267.8,907.1 1271.6,898 1275.4,888.8 1279.3,879.4 1283.3,869.7 1287.4,859.9 1291.6,849.9 1296,839.7 1300.4,829.2 1304.9,818.5 1309.6,807.5 1314.4,796.3 1319.3,784.8 1324.4,773 1329.6,760.9 1335,748.5 1340.6,735.8 1346.3,722.7 1352.2,709.2 1358.3,695.3 1364.6,681 1371.2,666.3 1378,651 1385,635.3 1392.3,619 1400,602.2 1407.9,584.7 1416.2,566.5 1424.8,547.6 1433.9,527.9 1443.4,507.4 1453.3,485.9 1463.8,463.3 1474.9,439.7 1486.7,414.8 1499.1,388.5 1512.4,360.6 1526.5,331 1541.7,299.4 1558.1,265.5 1575.8,228.9 1595.2,189.3 1616.4,146.1 1639.9,98.4" fill="none" stroke="#5050ff" stroke-width="0.7" stroke-opacity="0.5"/>
<polyline points="1219.5,1203.3 1221.3,1198.5 1223.1,1193.7 1225,1188.8 1226.8,1183.8 1228.7,1178.8 1230.7,1173.7 1232.6,1168.6 1234.6,1163.5 1236.6,1158.2 1238.6,1152.9 1240.7,1147.6 1242.7,1142.2 1244.9,1136.7 1247,1131.2 1249.2,1125.6 1251.4,1119.9 1253.6,1114.2 1255.9,1108.3 1258.2,1102.5 1260.6,1096.5 1262.9,1090.5 1265.4,1084.4 1267.8,1078.2 1270.3,1071.9 1272.9,1065.5 1275.4,1059.1 1278.1,1052.5 1280.7,1045.9 1283.5,1039.2 1286.2,1032.4 1289,1025.4 1291.9,1018.4 1294.8,1011.3 1297.8,1004 1300.8,996.7 1303.9,989.2 1307,981.6 1310.2,973.9 1313.5,966 1316.8,958 1320.2,949.9 1323.7,941.7 1327.3,933.3 1330.9,924.7 1334.6,916 1338.4,907.1 1342.2,898 1346.2,888.8 1350.3,879.4 1354.4,869.7 1358.7,859.9 1363,849.9 1367.5,839.7 1372.1,829.2 1376.8,818.5 1381.7,807.5 1386.6,796.3 1391.8,784.8 1397,773 1402.5,760.9 1408,748.5 1413.8,735.8 1419.8,722.7 1425.9,709.2 1432.3,695.3 1438.9,681 1445.7,666.3 1452.8,651 1460.1,635.3 1467.7,619 1475.7,602.2 1484,584.7 1492.6,566.5 1501.7,547.6 1511.2,527.9 1521.1,507.4 1531.6,485.9 1542.6,463.3 1554.2,439.7 1566.6,414.8 1579.7,388.5 1593.7,360.6 1608.6,331 1624.7,299.4 1642.1,265.5 1660.9,228.9 1681.6,189.3 1704.3,146.1 1729.5,98.4" fill="none" stroke="#5050ff" stroke-width="0.7" stroke-opacity="0.5"/>
<polyline points="1286.6,1203.3 1288.4,1198.5 1290.2,1193.7 1292.1,1188.8 1294,1183.8 1295.9,1178.8 1297.9,1173.7 1299.8,1168.6 1301.8,1163.5 1303.9,1158.2 1305.9,1152.9 1308,1147.6 1310.1,1142.2 1312.3,1136.7 1314.5,1131.2 1316.7,1125.6 1318.9,1119.9 1321.2,1114.2 1323.5,1108.3 1325.8,1102.5 1328.2,1096.5 1330.6,1090.5 1333.1,1084.4 1335.6,1078.2 1338.1,1071.9 1340.7,1065.5 1343.3,1059.1 1346,1052.5 1348.7,1045.9 1351.5,1039.2 1354.3,1032.4 1357.1,1025.4 1360,1018.4 1363,1011.3 1366,1004 1369.1,996.7 1372.2,989.2 1375.4,981.6 1378.7,973.9 1382,966 1385.4,958 1388.9,949.9 1392.4,941.7 1396,933.3 1399.7,924.7 1403.5,916 1407.3,907.1 1411.3,898 1415.3,888.8 1419.4,879.4 1423.6,869.7 1428,859.9 1432.4,849.9 1437,839.7 1441.7,829.2 1446.5,818.5 1451.4,807.5 1456.5,796.3 1461.7,784.8 1467.1,773 1472.6,760.9 1478.3,748.5 1484.2,735.8 1490.3,722.7 1496.5,709.2 1503,695.3 1509.7,681 1516.7,666.3 1523.9,651 1531.4,635.3 1539.2,619 1547.4,602.2 1555.8,584.7 1564.7,566.5 1573.9,547.6 1583.6,527.9 1593.8,507.4 1604.5,485.9 1615.8,463.3 1627.7,439.7 1640.4,414.8 1653.9,388.5 1668.2,360.6 1683.6,331 1700.1,299.4 1718,265.5 1737.4,228.9 1758.6,189.3 1782,146.1 1808.1,98.4" fill="none" stroke="#5050ff" stroke-width="0.7" stroke-opacity="0.5"/>
<polyline points="236.7,940.3 222.6,958.5 209.1,976.1 196,992.9 183.4,1009.2 171.2,1025 159.5,1040.2 148.1,1055 137.1,1069.3 126.5,1083.2 116.1,1096.7 106.1,1109.8 96.3,1122.6 86.8,1135 77.6,1147.1 68.6,1158.9 59.8,1170.4 51.3,1181.6 42.9,1192.6 34.8,1203.3" fill="none" stroke="#4caf4c" stroke-width="0.8" stroke-dasharray="3,2" stroke-opacity="0.8"/>
<polyline points="369.4,940.3 355.8,958.5 342.7,976.1 330.2,992.9 318,1009.2 306.3,1025 295,1040.2 284.1,1055 273.5,1069.3 263.3,1083.2 253.3,1096.7 243.7,1109.8 234.3,1122.6 225.2,1135 216.3,1147.1 207.7,1158.9 199.2,1170.4 191,1181.6 183,1192.6 175.2,1203.3" fill="none" stroke="#4caf4c" stroke-width="0.8" stroke-dasharray="3,2" stroke-opacity="0.8"/>
<polyline points="478.2,940.3 465,958.5 452.4,976.1 440.2,992.9 428.5,1009.2 417.2,1025 406.3,1040.2 395.7,1055 385.5,1069.3 375.6,1083.2 366,1096.7 356.7,1109.8 347.6,1122.6 338.8,1135 330.3,1147.1 321.9,1158.9 313.8,1170.4 305.9,1181.6 298.2,1192.6 290.6,1203.3" fill="none" stroke="#4caf4c" stroke-width="0.8" stroke-dasharray="3,2" stroke-opacity="0.8"/>
<polyline points="595,940.3 582.3,958.5 570.2,976.1 558.5,992.9 547.2,1009.2 536.3,1025 525.8,1040.2 515.7,1055 505.9,1069.3 496.4,1083.2 487.1,1096.7 478.2,1109.8 469.5,1122.6 461.1,1135 452.8,1147.1 444.8,1158.9 437.1,1170.4 429.5,1181.6 422.1,1192.6 414.9,1203.3" fill="none" stroke="#4caf4c" stroke-width="0.8" stroke-dasharray="3,2" stroke-opacity="0.8"/>
<polyline points="695.6,940.3 683.4,958.5 671.6,976.1 660.3,992.9 649.5,1009.2 639,1025 628.9,1040.2 619.1,1055 609.6,1069.3 600.5,1083.2 591.6,1096.7 583,1109.8 574.6,1122.6 566.5,1135 558.6,1147.1 550.9,1158.9 543.4,1170.4 536.1,1181.6 529,1192.6 522.1,1203.3" fill="none" stroke="#4caf4c" stroke-width="0.8" stroke-dasharray="3,2" stroke-opacity="0.8"/>
<polyline points="762.7,940.3 750.8,958.5 739.4,976.1 728.4,992.9 717.8,1009.2 707.5,1025 697.7,1040.2 688.2,1055 678.9,1069.3 670,1083.2 661.4,1096.7 653,1109.8 644.8,1122.6 636.9,1135 629.3,1147.1 621.8,1158.9 614.5,1170.4 607.4,1181.6 600.5,1192.6 593.7,1203.3" fill="none" stroke="#4caf4c" stroke-width="0.8" stroke-dasharray="3,2" stroke-opacity="0.8"/>
<polyline points="854.9,940.3 843.4,958.5 832.3,976.1 821.7,992.9 811.5,1009.2 801.7,1025 792.2,1040.2 783,1055 774.1,1069.3 765.6,1083.2 757.2,1096.7 749.2,1109.8 741.3,1122.6 733.7,1135 726.4,1147.1 719.2,1158.9 712.2,1170.4 705.4,1181.6 698.7,1192.6 692.3,1203.3" fill="none" stroke="#4caf4c" stroke-width="0.8" stroke-dasharray="3,2" stroke-opacity="0.8"/>
<polyline points="937.6,940.3 926.5,958.5 915.8,976.1 905.6,992.9 895.7,1009.2 886.2,1025 877.1,1040.2 868.2,1055 859.7,1069.3 851.4,1083.2 843.4,1096.7 835.6,1109.8 828.1,1122.6 820.8,1135 813.7,1147.1 806.8,1158.9 800,1170.4 793.5,1181.6 787.1,1192.6 780.9,1203.3" fill="none" stroke="#4caf4c" stroke-width="0.8" stroke-dasharray="3,2" stroke-opacity="0.8"/>
<polyline points="998,940.3 987.2,958.5 976.8,976.1 966.8,992.9 957.2,1009.2 948,1025 939.1,1040.2 930.5,1055 922.1,1069.3 914.1,1083.2 906.3,1096.7 898.8,1109.8 891.4,1122.6 884.3,1135 877.4,1147.1 870.7,1158.9 864.2,1170.4 857.9,1181.6 851.7,1192.6 845.6,1203.3" fill="none" stroke="#4caf4c" stroke-width="0.8" stroke-dasharray="3,2" stroke-opacity="0.8"/>
<line x1="128.8" y1="1203.3" x2="1312.1" y2="98.4" stroke="#7b80d8" stroke-width="1.8" stroke-dasharray="8,3"/>
<line x1="397.5" y1="1203.3" x2="1580.8" y2="98.4" stroke="#7b80d8" stroke-width="1.8" stroke-dasharray="8,3"/>
<line x1="31.6" y1="98.4" x2="1301.5" y2="98.4" stroke="#a8a8a8" stroke-width="1.2" />
<line x1="31.6" y1="424.1" x2="1301.5" y2="424.1" stroke="#a8a8a8" stroke-width="1.2" />
<line x1="31.6" y1="614.6" x2="1301.5" y2="614.6" stroke="#a8a8a8" stroke-width="1.2" />
<line x1="31.6" y1="749.8" x2="1301.5" y2="749.8" stroke="#a8a8a8" stroke-width="1.2" />
<line x1="31.6" y1="854.7" x2="1301.5" y2="854.7" stroke="#a8a8a8" stroke-width="1.2" />
<line x1="31.6" y1="940.3" x2="1301.5" y2="940.3" stroke="#a8a8a8" stroke-width="1.2" />
<line x1="31.6" y1="1012.8" x2="1301.5" y2="1012.8" stroke="#a8a8a8" stroke-width="1.2" />
<line x1="31.6" y1="1075.5" x2="1301.5" y2="1075.5" stroke="#a8a8a8" stroke-width="1.2" />
<line x1="31.6" y1="1130.9" x2="1301.5" y2="1130.9" stroke="#a8a8a8" stroke-width="1.2" />
<line x1="31.6" y1="1180.4" x2="1301.5" y2="1180.4" stroke="#a8a8a8" stroke-width="1.2" />
</g>
<g clip-path="url(#cs)">
<polyline points="581.6,853.8 582.7,860 597,895 610.5,930.1 623,985 635.6,1039.8 644.9,1133.7" fill="none" stroke="#800080" stroke-width="1.2" stroke-dasharray="4,2"/>
<polyline points="820.5,1132.4 775.5,1100 775.1,1093.7 774.4,1087.9 773.7,1081 773,1073.4 772.2,1065.7 771.6,1058.3 771.1,1051.5 770.7,1044.8 770.3,1038 769.9,1030.7 769.5,1022.6 768.9,1013.4 768.2,1002.5 767.4,990.1 766.5,976.8 765.6,963.5 764.6,950.7 763.6,939.3 762.6,929.3 761.5,920.2 760.4,911.7 759.2,903.5 757.9,895.3 756.6,886.8 755.4,878.3 754.2,870.2 753,862 751.6,853.5 749.7,844.2 747.3,833.9 744.3,822.2 740.8,809.4 737,795.9 732.8,782 728.2,768.1 723.5,754.6 718.3,741.1 712.6,727.4 706.6,713.6 700.6,700.1 694.6,687.2 689.1,675.2 684.5,665 680.7,656.5 677.1,648.7 672.9,640.2 667.4,630.1 660,617 649.8,599.9 637.1,579.4 623.3,557.1 609.2,534.8 596.2,514 585.2,496.5 576.7,482.8 569.7,471.6 563.7,462 558.1,452.9 552.3,443.5 545.6,432.5 538.1,420 530.1,406.8 522,393.2 513.7,379.4 505.4,365.6 497.3,352.2 489.2,339.2 481.1,326.3 473,313.5 465,300.7 457,287.7 449.1,274.5 441.3,261.1 433.5,247.6 425.8,233.9 418.2,220.1 410.8,205.9 403.6,191.4 396.3,175.3 388.7,157.6 381.3,139.5 374.5,122.6 368.9,108.3 364.7,98" fill="none" stroke="#bdbdbd" stroke-width="2.8" stroke-dasharray="9,4"/>
<polyline points="821,1132.4 790.1,1103.3 790,1101.2 789.8,1098.7 789.6,1095.5 789.4,1091.4 789.1,1086.2 788.8,1079.5 788.4,1071 788.1,1060.9 787.6,1049.6 787.1,1037.6 786.6,1025.4 786.1,1013.4 785.6,1001.3 785,988.5 784.5,975.5 783.8,962.7 783,950.5 782.1,939.3 781,929.5 779.7,920.7 778.4,912.5 776.9,904.5 775.4,896.1 773.8,886.8 772.3,876.6 770.7,865.9 769.1,854.8 767.4,843.4 765.5,832 763.2,820.7 760.8,809.6 758.3,798.7 755.6,787.6 752.5,776.3 749,764.5 744.7,751.9 739.7,738.5 734.1,724.3 728,709.7 721.4,694.7 714.6,679.6 707.6,664.6 700.3,649.4 692.6,633.9 684.6,618.3 676.4,602.8 668.2,587.7 660,573.3 651.7,559.7 643.2,546.6 634.6,534 626.1,521.6 617.8,509.3 609.8,496.8 602.3,484.3 595.3,472.1 588.4,459.9 581.6,447.5 574.5,434.9 567,421.8 558.9,408 550.4,393.7 541.7,379.1 533,364.5 524.4,350 516.1,336.1 508.2,322.7 500.5,309.8 493,297.1 485.5,284.4 478,271.6 470.5,258.4 462.8,244.8 454.9,230.9 447.1,216.9 439.4,202.8 432,189 425,175.4 418.2,161.3 411.3,146.3 404.8,131.5 398.8,117.9 393.9,106.4 390.2,98" fill="none" stroke="#a0a0a0" stroke-width="2.8" stroke-dasharray="9,4"/>
<polyline points="820.4,1132.5 788.4,1111 787.4,1103.3 787.4,1101 787.5,1098.1 787.6,1094.5 787.6,1090.3 787.6,1085.3 787.4,1079.5 787.1,1072.5 786.8,1064.2 786.4,1055.2 786,1046 785.4,1037.2 784.8,1029.3 784.1,1022.5 783.4,1016.5 782.6,1010.9 781.8,1005.3 780.7,999.1 779.5,992.2 778,984.3 776.3,975.7 774.4,966.7 772.5,957.5 770.6,948.3 768.9,939.3 767.5,930.7 766.3,922.3 765.2,913.9 764,905.3 762.5,896.3 760.5,886.8 758,876.6 755.1,866 751.9,854.9 748.5,843.6 745.2,832.2 742,820.7 739,809.2 736.1,797.5 733.2,785.7 730.3,773.7 727,761.6 723.5,749.3 719.7,736.9 715.6,724.4 711.4,711.7 706.9,698.9 702.1,685.8 697,672.5 691.7,658.9 686.3,645.1 680.6,631.1 674.4,616.9 667.6,602.5 660,587.9 651.2,572.8 641.3,557.1 630.7,541.1 620,525.4 609.8,510.2 600.5,496 592.3,482.9 584.9,470.8 577.9,459.2 571,447.8 563.9,436.4 556.3,424.5 548.2,412.2 539.7,399.9 531.1,387.5 522.4,374.9 513.8,362.3 505.4,349.5 496.9,336.3 488.3,322.5 479.7,308.6 471.5,295 463.9,282.2 457.1,270.5 451.3,260 446.2,250.4 441.7,241.6 437.7,233.3 434,225.6 430.4,218.2 427.3,211.9 424.9,207 422.8,202.6 420.6,197.8 417.9,191.7 414.3,183.4 409.3,171.6 403.2,156.6 396.5,140.4 390.1,124.6 384.6,111.1 380.8,101.7" fill="none" stroke="#ff0000" stroke-width="3.2" stroke-dasharray="11,5"/>
<polyline points="665.2,96 667.9,147.9 656,167.8 640.1,179.7 603.1,191.6 589.8,206.1 556.8,216.7 539.6,228.1 510.5,235.2 498.6,255.1 458.9,271.7 436.4,281.5 435.9,312.5 417.3,327.3 428.4,367.5 439.8,423 450.9,449.5 457.5,473.3 466.8,494.5 466.8,511.2 472.1,528.4 497.2,562 505.2,576 517.1,587.9 532.9,614.3 572.6,675.2 567.3,693.7 571.3,706.9 605.7,751.9 646.7,831.3 645.4,852.4 651,866 687,912.9 766.3,984.3 787.4,1008.1 809.9,1041.2 809.9,1046.4 754.4,1053.1 771.6,1079.5 784.8,1098 790.1,1110 820.5,1132.4" fill="none" stroke="#a52a2a" stroke-width="5.2" stroke-dasharray="5.2,6" stroke-opacity="0.8"/>
<polyline points="663.4,96 666.1,147.9 654.2,167.8 638.3,179.7 601.3,191.6 588,206.1 555,216.7 537.8,228.1 508.7,235.2 496.8,255.1 457.1,271.7 434.6,281.5 434.1,312.5 415.5,327.3 426.6,367.5 438,423 449.1,449.5 455.7,473.3 465,494.5 465,511.2 470.3,528.4 495.4,562 503.4,576 515.3,587.9 519.4,595.8 565.7,676.5 543.2,692.4 544.6,706.9 564.4,749.3 577.6,851.1 598.8,868.3 621.3,914.2 638.5,988.3 650.4,1012.1 663.1,1024 702.8,1045.1 712.1,1050.4 739.8,1103.3 741.2,1132.4 750.4,1133.7" fill="none" stroke="#84b4f8" stroke-width="2.2" stroke-linejoin="round"/>
<polyline points="461.7,96 454.1,142.1 466.5,150.6 467.8,167.8 466,179.1 442.7,190.8 426.8,207.4 412.3,214 391.1,227.3 375.2,235.2 364.7,255.8 328.1,281.5 328.9,311.9 309.1,327.3 305.9,359.6 346.1,423.8 302.5,448.2 335.6,472 318.7,493.6 347.5,512.5 407,528.4 442.7,562.8 466.5,576 467.8,588.4 487.1,596.3 486.3,613 490.3,628.9 524.7,676.5 506.2,682.3 311.7,693.2 315.7,707.5 309.1,749.3 286.6,757.2 244.3,831.8 335.6,851.1 486.3,867 523.3,914.2 481,988.3 511.4,1012.1 545.8,1024 646.4,1046.5 704.1,1053.1 733.2,1102 722.6,1132.4 741.2,1133.7" fill="none" stroke="#6495ed" stroke-width="6.3" stroke-linejoin="round" stroke-linecap="round"/>
<polyline points="664.9,96 667.6,147.9 655.7,167.8 639.8,179.7 602.8,191.6 589.5,206.1 556.5,216.7 539.3,228.1 510.2,235.2 498.3,255.1 458.6,271.7 436.1,281.5 435.6,312.5 417,327.3 428.1,367.5 439.5,423 450.6,449.5 457.2,473.3 466.5,494.5 466.5,511.2 471.8,528.4 496.9,562 504.9,576 516.8,587.9 532.6,614.3 572.3,675.2 567,693.7 571,706.9 605.4,751.9 646.4,831.3 645.1,852.4 648.5,867.5 684.3,915.5 763.6,989.6 786.1,1018.7 792.7,1045.1 737.2,1049.1 731.9,1054.4 754.4,1103.3 782.1,1131.1" fill="none" stroke="#ff0000" stroke-width="6.3" stroke-linejoin="round" stroke-linecap="round"/>
</g>
<line x1="31.6" y1="424.1" x2="36.6" y2="424.1" stroke="#000" stroke-width="1.3" />
<text x="40.4" y="430.3" font-size="17.1" fill="#000" font-weight="bold" >200</text>
<line x1="31.6" y1="614.6" x2="36.6" y2="614.6" stroke="#000" stroke-width="1.3" />
<text x="40.7" y="620.8" font-size="17.1" fill="#000" font-weight="bold" >300</text>
<line x1="31.6" y1="749.8" x2="36.6" y2="749.8" stroke="#000" stroke-width="1.3" />
<text x="41" y="756" font-size="17.1" fill="#000" font-weight="bold" >400</text>
<line x1="31.6" y1="854.7" x2="36.6" y2="854.7" stroke="#000" stroke-width="1.3" />
<text x="40.5" y="860.9" font-size="17.1" fill="#000" font-weight="bold" >500</text>
<line x1="31.6" y1="940.3" x2="36.6" y2="940.3" stroke="#000" stroke-width="1.3" />
<text x="40.7" y="946.5" font-size="17.1" fill="#000" font-weight="bold" >600</text>
<line x1="31.6" y1="1012.8" x2="36.6" y2="1012.8" stroke="#000" stroke-width="1.3" />
<text x="40.7" y="1019" font-size="17.1" fill="#000" font-weight="bold" >700</text>
<line x1="31.6" y1="1075.5" x2="36.6" y2="1075.5" stroke="#000" stroke-width="1.3" />
<text x="40.8" y="1081.7" font-size="17.1" fill="#000" font-weight="bold" >800</text>
<line x1="31.6" y1="1130.9" x2="36.6" y2="1130.9" stroke="#000" stroke-width="1.3" />
<text x="40.9" y="1137.1" font-size="17.1" fill="#000" font-weight="bold" >900</text>
<line x1="31.6" y1="1180.4" x2="36.6" y2="1180.4" stroke="#000" stroke-width="1.3" />
<text x="39.9" y="1186.6" font-size="17.1" fill="#000" font-weight="bold" >1000</text>
<line x1="128.8" y1="1203.3" x2="128.8" y2="1198.3" stroke="#000" stroke-width="1.3" />
<text x="128.8" y="1200.8" font-size="17.1" fill="#000" font-weight="bold" text-anchor="middle" >−20</text>
<line x1="263.1" y1="1203.3" x2="263.1" y2="1198.3" stroke="#000" stroke-width="1.3" />
<text x="263.1" y="1200.8" font-size="17.1" fill="#000" font-weight="bold" text-anchor="middle" >−10</text>
<line x1="397.5" y1="1203.3" x2="397.5" y2="1198.3" stroke="#000" stroke-width="1.3" />
<text x="397.5" y="1200.8" font-size="17.1" fill="#000" font-weight="bold" text-anchor="middle" >0</text>
<line x1="531.9" y1="1203.3" x2="531.9" y2="1198.3" stroke="#000" stroke-width="1.3" />
<text x="531.9" y="1200.8" font-size="17.1" fill="#000" font-weight="bold" text-anchor="middle" >10</text>
<line x1="666.2" y1="1203.3" x2="666.2" y2="1198.3" stroke="#000" stroke-width="1.3" />
<text x="666.2" y="1200.8" font-size="17.1" fill="#000" font-weight="bold" text-anchor="middle" >20</text>
<line x1="800.5" y1="1203.3" x2="800.5" y2="1198.3" stroke="#000" stroke-width="1.3" />
<text x="800.5" y="1200.8" font-size="17.1" fill="#000" font-weight="bold" text-anchor="middle" >30</text>
<line x1="934.9" y1="1203.3" x2="934.9" y2="1198.3" stroke="#000" stroke-width="1.3" />
<text x="934.9" y="1200.8" font-size="17.1" fill="#000" font-weight="bold" text-anchor="middle" >40</text>
<line x1="1069.2" y1="1203.3" x2="1069.2" y2="1198.3" stroke="#000" stroke-width="1.3" />
<text x="1069.2" y="1200.8" font-size="17.1" fill="#000" font-weight="bold" text-anchor="middle" >50</text>
<line x1="1203.6" y1="1203.3" x2="1203.6" y2="1198.3" stroke="#000" stroke-width="1.3" />
<text x="1203.6" y="1200.8" font-size="17.1" fill="#000" font-weight="bold" text-anchor="middle" >60</text>
<text x="91.5" y="593.1" font-size="14.3" fill="#555" font-weight="bold" >9km</text>
<text x="91.2" y="725.9" font-size="14.3" fill="#555" font-weight="bold" >7km</text>
<text x="91.1" y="849.7" font-size="14.3" fill="#555" font-weight="bold" >5km</text>
<text x="91.2" y="968.9" font-size="14.3" fill="#555" font-weight="bold" >3km</text>
<text x="90.6" y="1079.4" font-size="14.3" fill="#555" font-weight="bold" >1km</text>
<text x="90.6" y="297.2" font-size="14.3" fill="#555" font-weight="bold" >13km</text>
<text x="91.2" y="1135.3" font-size="15.1" fill="#555" font-weight="bold" >-SFC (872m) -</text>
<text x="232.3" y="375.5" font-size="18.4" fill="#3a9c3a" >30% →</text>
<text x="389.5" y="593.3" font-size="18.4" fill="#3a9c3a" >72% →</text>
<text x="188.8" y="789" font-size="18.4" fill="#3a9c3a" >8% →</text>
<text x="406.7" y="969.3" font-size="18.4" fill="#3a9c3a" >25% →</text>
<text x="633.3" y="1079.7" font-size="18.4" fill="#3a9c3a" >90% →</text>
<text x="503.1" y="257.7" font-size="18.8" fill="#f04848" >←3923J/kg</text>
<text x="929.1" y="789" font-size="18.8" fill="#f04848" >←884J/kg</text>
<text x="940.6" y="969.8" font-size="18.8" fill="#f04848" >←72J/kg</text>
<text x="1071.7" y="256.6" font-size="20.4" fill="#888888" font-weight="bold" >←MUEL</text>
<text x="1072" y="1005.7" font-size="20.4" fill="#888888" font-weight="bold" >←MULFC</text>
<text x="1072" y="1113.4" font-size="20.4" fill="#888888" font-weight="bold" >←SBLCL</text>
<text x="1022.2" y="1104.8" font-size="12.9" fill="#888888" font-weight="bold" >←PBL</text>
<text x="1002.2" y="922.2" font-size="16.2" fill="#98b6f0" font-weight="bold" >←FRZ</text>
<text x="1003.5" y="973.8" font-size="16.2" fill="#98b6f0" font-weight="bold" >←WB0</text>
<text x="695.2" y="1154.8" font-size="16.1" fill="#8fb0ee" font-weight="bold" >68°F</text>
<text x="780.5" y="1154.8" font-size="16.1" fill="#f04848" font-weight="bold" >73°F</text>
<text x="173.9" y="656.3" font-size="17.2" fill="#5aa55a" font-weight="bold" >HGZ</text>
<line x1="196.1" y1="665.1" x2="196.1" y2="845.8" stroke="#5aa55a" stroke-width="3.2" stroke-opacity="0.6"/>
<text x="214" y="873.2" font-size="17.2" fill="#cc7a7a" font-weight="bold" >8.9</text>
<line x1="233.7" y1="878" x2="233.7" y2="997.5" stroke="#cc7a7a" stroke-width="3.2" stroke-opacity="0.6"/>
<text x="255.9" y="1077.8" font-size="17.2" fill="#add8e6" font-weight="bold" fill-opacity="0.8">EIL</text>
<line x1="271.5" y1="1079.5" x2="271.5" y2="1135" stroke="#add8e6" stroke-width="3.2" stroke-opacity="0.6"/>
<line x1="1122.8" y1="259" x2="1122.8" y2="1000" stroke="#c4c4c4" stroke-width="1.6" stroke-dasharray="1.5,3"/>
<line x1="1122.8" y1="1006" x2="1122.8" y2="1133.7" stroke="#6a6a6a" stroke-width="1.6" stroke-dasharray="1.5,3"/>
<line x1="1046.6" y1="1106" x2="1046.6" y2="1133.7" stroke="#888" stroke-width="1.6" stroke-dasharray="1.5,3"/>
<line x1="1243.7" y1="153" x2="1243.7" y2="1196" stroke="#000" stroke-width="1.0" />
<line x1="1243.7" y1="217.3" x2="1204.5" y2="239.5" stroke="#000" stroke-width="2.0" stroke-linecap="round"/>
<polygon points="1204.5,239.5 1199,222.5 1210.6,236" fill="#000" stroke="#000" stroke-width="1.2" stroke-linejoin="round"/>
<line x1="1215.5" y1="233.3" x2="1203.8" y2="219.8" stroke="#000" stroke-width="2.0" stroke-linecap="round"/>
<line x1="1220.4" y1="230.5" x2="1208.7" y2="217" stroke="#000" stroke-width="2.0" stroke-linecap="round"/>
<line x1="1225.3" y1="227.7" x2="1219.4" y2="221" stroke="#000" stroke-width="2.0" stroke-linecap="round"/>
<circle cx="1243.7" cy="217.3" r="3.3" fill="#000"/>
<line x1="1243.7" y1="255.8" x2="1203" y2="275" stroke="#000" stroke-width="2.0" stroke-linecap="round"/>
<polygon points="1203,275 1198.7,257.7 1209.3,272" fill="#000" stroke="#000" stroke-width="1.2" stroke-linejoin="round"/>
<line x1="1214.4" y1="269.6" x2="1203.8" y2="255.3" stroke="#000" stroke-width="2.0" stroke-linecap="round"/>
<line x1="1219.5" y1="267.2" x2="1208.8" y2="252.9" stroke="#000" stroke-width="2.0" stroke-linecap="round"/>
<line x1="1224.5" y1="264.8" x2="1213.9" y2="250.5" stroke="#000" stroke-width="2.0" stroke-linecap="round"/>
<circle cx="1243.7" cy="255.8" r="3.3" fill="#000"/>
<line x1="1243.7" y1="288.4" x2="1202.9" y2="307.4" stroke="#000" stroke-width="2.0" stroke-linecap="round"/>
<polygon points="1202.9,307.4 1198.7,290.1 1209.3,304.5" fill="#000" stroke="#000" stroke-width="1.2" stroke-linejoin="round"/>
<line x1="1214.3" y1="302.1" x2="1203.8" y2="287.7" stroke="#000" stroke-width="2.0" stroke-linecap="round"/>
<line x1="1219.4" y1="299.7" x2="1208.8" y2="285.4" stroke="#000" stroke-width="2.0" stroke-linecap="round"/>
<line x1="1224.5" y1="297.4" x2="1213.9" y2="283" stroke="#000" stroke-width="2.0" stroke-linecap="round"/>
<circle cx="1243.7" cy="288.4" r="3.3" fill="#000"/>
<line x1="1243.7" y1="312.7" x2="1203.6" y2="333.1" stroke="#000" stroke-width="2.0" stroke-linecap="round"/>
<polygon points="1203.6,333.1 1198.8,316 1209.8,330" fill="#000" stroke="#000" stroke-width="1.2" stroke-linejoin="round"/>
<line x1="1214.8" y1="327.4" x2="1203.8" y2="313.4" stroke="#000" stroke-width="2.0" stroke-linecap="round"/>
<line x1="1219.8" y1="324.9" x2="1208.8" y2="310.9" stroke="#000" stroke-width="2.0" stroke-linecap="round"/>
<line x1="1224.8" y1="322.3" x2="1213.7" y2="308.3" stroke="#000" stroke-width="2.0" stroke-linecap="round"/>
<circle cx="1243.7" cy="312.7" r="3.3" fill="#000"/>
<line x1="1243.7" y1="360.8" x2="1203.4" y2="380.8" stroke="#000" stroke-width="2.0" stroke-linecap="round"/>
<polygon points="1203.4,380.8 1198.7,363.6 1209.7,377.7" fill="#000" stroke="#000" stroke-width="1.2" stroke-linejoin="round"/>
<line x1="1214.7" y1="375.2" x2="1203.8" y2="361.1" stroke="#000" stroke-width="2.0" stroke-linecap="round"/>
<line x1="1219.7" y1="372.7" x2="1208.8" y2="358.6" stroke="#000" stroke-width="2.0" stroke-linecap="round"/>
<line x1="1224.7" y1="370.2" x2="1213.8" y2="356.1" stroke="#000" stroke-width="2.0" stroke-linecap="round"/>
<circle cx="1243.7" cy="360.8" r="3.3" fill="#000"/>
<line x1="1243.7" y1="379.1" x2="1204.3" y2="400.8" stroke="#000" stroke-width="2.0" stroke-linecap="round"/>
<polygon points="1204.3,400.8 1198.9,383.8 1210.4,397.4" fill="#000" stroke="#000" stroke-width="1.2" stroke-linejoin="round"/>
<line x1="1215.3" y1="394.7" x2="1203.8" y2="381.1" stroke="#000" stroke-width="2.0" stroke-linecap="round"/>
<line x1="1220.2" y1="392" x2="1208.7" y2="378.4" stroke="#000" stroke-width="2.0" stroke-linecap="round"/>
<line x1="1225.1" y1="389.3" x2="1213.6" y2="375.7" stroke="#000" stroke-width="2.0" stroke-linecap="round"/>
<circle cx="1243.7" cy="379.1" r="3.3" fill="#000"/>
<line x1="1243.7" y1="423.4" x2="1203.7" y2="443.9" stroke="#000" stroke-width="2.0" stroke-linecap="round"/>
<polygon points="1203.7,443.9 1198.8,426.8 1209.9,440.7" fill="#000" stroke="#000" stroke-width="1.2" stroke-linejoin="round"/>
<line x1="1214.9" y1="438.2" x2="1203.8" y2="424.2" stroke="#000" stroke-width="2.0" stroke-linecap="round"/>
<line x1="1219.8" y1="435.6" x2="1208.8" y2="421.6" stroke="#000" stroke-width="2.0" stroke-linecap="round"/>
<line x1="1224.8" y1="433.1" x2="1213.7" y2="419.1" stroke="#000" stroke-width="2.0" stroke-linecap="round"/>
<circle cx="1243.7" cy="423.4" r="3.3" fill="#000"/>
<line x1="1243.7" y1="448.6" x2="1203" y2="467.8" stroke="#000" stroke-width="2.0" stroke-linecap="round"/>
<polygon points="1203,467.8 1198.7,450.5 1209.3,464.8" fill="#000" stroke="#000" stroke-width="1.2" stroke-linejoin="round"/>
<line x1="1214.4" y1="462.4" x2="1203.8" y2="448.1" stroke="#000" stroke-width="2.0" stroke-linecap="round"/>
<line x1="1219.5" y1="460" x2="1208.8" y2="445.7" stroke="#000" stroke-width="2.0" stroke-linecap="round"/>
<line x1="1224.5" y1="457.6" x2="1213.9" y2="443.3" stroke="#000" stroke-width="2.0" stroke-linecap="round"/>
<circle cx="1243.7" cy="448.6" r="3.3" fill="#000"/>
<line x1="1243.7" y1="493.2" x2="1203.6" y2="513.6" stroke="#000" stroke-width="2.0" stroke-linecap="round"/>
<polygon points="1203.6,513.6 1198.8,496.5 1209.8,510.5" fill="#000" stroke="#000" stroke-width="1.2" stroke-linejoin="round"/>
<line x1="1214.8" y1="507.9" x2="1203.8" y2="493.9" stroke="#000" stroke-width="2.0" stroke-linecap="round"/>
<line x1="1219.8" y1="505.4" x2="1208.8" y2="491.4" stroke="#000" stroke-width="2.0" stroke-linecap="round"/>
<line x1="1224.8" y1="502.8" x2="1213.7" y2="488.8" stroke="#000" stroke-width="2.0" stroke-linecap="round"/>
<circle cx="1243.7" cy="493.2" r="3.3" fill="#000"/>
<line x1="1243.7" y1="512.9" x2="1205.2" y2="536.1" stroke="#000" stroke-width="2.0" stroke-linecap="round"/>
<polygon points="1205.2,536.1 1199.1,519.3 1211.2,532.5" fill="#000" stroke="#000" stroke-width="1.2" stroke-linejoin="round"/>
<line x1="1216" y1="529.6" x2="1203.9" y2="516.5" stroke="#000" stroke-width="2.0" stroke-linecap="round"/>
<line x1="1220.8" y1="526.7" x2="1208.7" y2="513.6" stroke="#000" stroke-width="2.0" stroke-linecap="round"/>
<line x1="1225.5" y1="523.8" x2="1219.5" y2="517.3" stroke="#000" stroke-width="2.0" stroke-linecap="round"/>
<circle cx="1243.7" cy="512.9" r="3.3" fill="#000"/>
<line x1="1243.7" y1="562.5" x2="1206.3" y2="587.6" stroke="#000" stroke-width="2.0" stroke-linecap="round"/>
<polygon points="1206.3,587.6 1199.5,571.1 1212.2,583.7" fill="#000" stroke="#000" stroke-width="1.2" stroke-linejoin="round"/>
<line x1="1216.8" y1="580.6" x2="1204.1" y2="568" stroke="#000" stroke-width="2.0" stroke-linecap="round"/>
<line x1="1221.5" y1="577.4" x2="1208.8" y2="564.9" stroke="#000" stroke-width="2.0" stroke-linecap="round"/>
<line x1="1226.1" y1="574.3" x2="1219.8" y2="568" stroke="#000" stroke-width="2.0" stroke-linecap="round"/>
<circle cx="1243.7" cy="562.5" r="3.3" fill="#000"/>
<line x1="1243.7" y1="588.3" x2="1207" y2="614.3" stroke="#000" stroke-width="2.0" stroke-linecap="round"/>
<polygon points="1207,614.3 1199.7,598 1212.7,610.3" fill="#000" stroke="#000" stroke-width="1.2" stroke-linejoin="round"/>
<line x1="1217.3" y1="607" x2="1204.3" y2="594.8" stroke="#000" stroke-width="2.0" stroke-linecap="round"/>
<line x1="1221.8" y1="603.8" x2="1208.9" y2="591.6" stroke="#000" stroke-width="2.0" stroke-linecap="round"/>
<circle cx="1243.7" cy="588.3" r="3.3" fill="#000"/>
<line x1="1243.7" y1="613.9" x2="1209" y2="642.5" stroke="#000" stroke-width="2.0" stroke-linecap="round"/>
<polygon points="1209,642.5 1200.6,626.8 1214.4,638.1" fill="#000" stroke="#000" stroke-width="1.2" stroke-linejoin="round"/>
<line x1="1218.7" y1="634.5" x2="1204.9" y2="623.3" stroke="#000" stroke-width="2.0" stroke-linecap="round"/>
<line x1="1223" y1="631" x2="1209.2" y2="619.7" stroke="#000" stroke-width="2.0" stroke-linecap="round"/>
<circle cx="1243.7" cy="613.9" r="3.3" fill="#000"/>
<line x1="1243.7" y1="641.3" x2="1208.6" y2="669.5" stroke="#000" stroke-width="2.0" stroke-linecap="round"/>
<polygon points="1208.6,669.5 1200.4,653.7 1214.1,665.1" fill="#000" stroke="#000" stroke-width="1.2" stroke-linejoin="round"/>
<line x1="1218.5" y1="661.6" x2="1204.8" y2="650.2" stroke="#000" stroke-width="2.0" stroke-linecap="round"/>
<line x1="1222.8" y1="658.1" x2="1209.1" y2="646.7" stroke="#000" stroke-width="2.0" stroke-linecap="round"/>
<circle cx="1243.7" cy="641.3" r="3.3" fill="#000"/>
<line x1="1243.7" y1="682.3" x2="1208.5" y2="710.3" stroke="#000" stroke-width="2.0" stroke-linecap="round"/>
<polygon points="1208.5,710.3 1200.3,694.5 1214,706" fill="#000" stroke="#000" stroke-width="1.2" stroke-linejoin="round"/>
<line x1="1218.4" y1="702.5" x2="1204.7" y2="691" stroke="#000" stroke-width="2.0" stroke-linecap="round"/>
<line x1="1222.7" y1="699" x2="1209.1" y2="687.5" stroke="#000" stroke-width="2.0" stroke-linecap="round"/>
<circle cx="1243.7" cy="682.3" r="3.3" fill="#000"/>
<line x1="1243.7" y1="707.5" x2="1209.1" y2="736.3" stroke="#000" stroke-width="2.0" stroke-linecap="round"/>
<polygon points="1209.1,736.3 1200.6,720.6 1214.5,731.8" fill="#000" stroke="#000" stroke-width="1.2" stroke-linejoin="round"/>
<line x1="1218.8" y1="728.2" x2="1204.9" y2="717" stroke="#000" stroke-width="2.0" stroke-linecap="round"/>
<line x1="1223.1" y1="724.6" x2="1209.2" y2="713.4" stroke="#000" stroke-width="2.0" stroke-linecap="round"/>
<circle cx="1243.7" cy="707.5" r="3.3" fill="#000"/>
<line x1="1243.7" y1="748.8" x2="1212.2" y2="781" stroke="#000" stroke-width="2.0" stroke-linecap="round"/>
<polygon points="1212.2,781 1202.2,766.2 1217.1,776" fill="#000" stroke="#000" stroke-width="1.2" stroke-linejoin="round"/>
<line x1="1221.1" y1="772" x2="1206.1" y2="762.2" stroke="#000" stroke-width="2.0" stroke-linecap="round"/>
<line x1="1225" y1="768" x2="1210" y2="758.2" stroke="#000" stroke-width="2.0" stroke-linecap="round"/>
<circle cx="1243.7" cy="748.8" r="3.3" fill="#000"/>
<line x1="1243.7" y1="757.3" x2="1208.9" y2="785.9" stroke="#000" stroke-width="2.0" stroke-linecap="round"/>
<polygon points="1208.9,785.9 1200.5,770.1 1214.3,781.4" fill="#000" stroke="#000" stroke-width="1.2" stroke-linejoin="round"/>
<line x1="1218.7" y1="777.9" x2="1204.9" y2="766.6" stroke="#000" stroke-width="2.0" stroke-linecap="round"/>
<line x1="1223" y1="774.3" x2="1216.1" y2="768.7" stroke="#000" stroke-width="2.0" stroke-linecap="round"/>
<circle cx="1243.7" cy="757.3" r="3.3" fill="#000"/>
<line x1="1243.7" y1="817.3" x2="1206.4" y2="842.4" stroke="#000" stroke-width="2.0" stroke-linecap="round"/>
<polygon points="1206.4,842.4 1199.5,826 1212.2,838.5" fill="#000" stroke="#000" stroke-width="1.2" stroke-linejoin="round"/>
<line x1="1216.8" y1="835.4" x2="1210.5" y2="829.1" stroke="#000" stroke-width="2.0" stroke-linecap="round"/>
<circle cx="1243.7" cy="817.3" r="3.3" fill="#000"/>
<line x1="1243.7" y1="851.3" x2="1210.3" y2="881.5" stroke="#000" stroke-width="2.0" stroke-linecap="round"/>
<polygon points="1210.3,881.5 1201.2,866.2 1215.5,876.8" fill="#000" stroke="#000" stroke-width="1.2" stroke-linejoin="round"/>
<circle cx="1243.7" cy="851.3" r="3.3" fill="#000"/>
<line x1="1243.7" y1="867.9" x2="1214.1" y2="901.8" stroke="#000" stroke-width="2.0" stroke-linecap="round"/>
<line x1="1214.1" y1="901.8" x2="1198.6" y2="892.9" stroke="#000" stroke-width="2.0" stroke-linecap="round"/>
<line x1="1217.7" y1="897.5" x2="1202.3" y2="888.6" stroke="#000" stroke-width="2.0" stroke-linecap="round"/>
<line x1="1221.4" y1="893.3" x2="1206" y2="884.4" stroke="#000" stroke-width="2.0" stroke-linecap="round"/>
<line x1="1225.1" y1="889.1" x2="1209.7" y2="880.2" stroke="#000" stroke-width="2.0" stroke-linecap="round"/>
<line x1="1228.8" y1="884.9" x2="1221.1" y2="880.5" stroke="#000" stroke-width="2.0" stroke-linecap="round"/>
<circle cx="1243.7" cy="867.9" r="3.3" fill="#000"/>
<line x1="1243.7" y1="914.8" x2="1222.5" y2="954.5" stroke="#000" stroke-width="2.0" stroke-linecap="round"/>
<line x1="1222.5" y1="954.5" x2="1205.4" y2="949.3" stroke="#000" stroke-width="2.0" stroke-linecap="round"/>
<line x1="1225.1" y1="949.5" x2="1208" y2="944.4" stroke="#000" stroke-width="2.0" stroke-linecap="round"/>
<line x1="1227.8" y1="944.6" x2="1210.7" y2="939.4" stroke="#000" stroke-width="2.0" stroke-linecap="round"/>
<line x1="1230.4" y1="939.7" x2="1221.9" y2="937.1" stroke="#000" stroke-width="2.0" stroke-linecap="round"/>
<circle cx="1243.7" cy="914.8" r="3.3" fill="#000"/>
<line x1="1243.7" y1="944.6" x2="1221.2" y2="983.6" stroke="#000" stroke-width="2.0" stroke-linecap="round"/>
<line x1="1221.2" y1="983.6" x2="1204.3" y2="977.8" stroke="#000" stroke-width="2.0" stroke-linecap="round"/>
<line x1="1224" y1="978.7" x2="1207.1" y2="973" stroke="#000" stroke-width="2.0" stroke-linecap="round"/>
<line x1="1226.8" y1="973.9" x2="1209.9" y2="968.1" stroke="#000" stroke-width="2.0" stroke-linecap="round"/>
<line x1="1229.6" y1="969" x2="1221.1" y2="966.1" stroke="#000" stroke-width="2.0" stroke-linecap="round"/>
<circle cx="1243.7" cy="944.6" r="3.3" fill="#000"/>
<line x1="1243.7" y1="980.3" x2="1220.4" y2="1018.8" stroke="#000" stroke-width="2.0" stroke-linecap="round"/>
<line x1="1220.4" y1="1018.8" x2="1203.6" y2="1012.7" stroke="#000" stroke-width="2.0" stroke-linecap="round"/>
<line x1="1223.3" y1="1014" x2="1206.5" y2="1007.9" stroke="#000" stroke-width="2.0" stroke-linecap="round"/>
<line x1="1226.2" y1="1009.2" x2="1209.4" y2="1003.1" stroke="#000" stroke-width="2.0" stroke-linecap="round"/>
<line x1="1229.1" y1="1004.4" x2="1212.3" y2="998.3" stroke="#000" stroke-width="2.0" stroke-linecap="round"/>
<line x1="1232" y1="999.6" x2="1223.6" y2="996.6" stroke="#000" stroke-width="2.0" stroke-linecap="round"/>
<circle cx="1243.7" cy="980.3" r="3.3" fill="#000"/>
<line x1="1243.7" y1="1014.7" x2="1214.1" y2="1048.6" stroke="#000" stroke-width="2.0" stroke-linecap="round"/>
<line x1="1214.1" y1="1048.6" x2="1198.6" y2="1039.7" stroke="#000" stroke-width="2.0" stroke-linecap="round"/>
<line x1="1217.8" y1="1044.4" x2="1202.3" y2="1035.5" stroke="#000" stroke-width="2.0" stroke-linecap="round"/>
<line x1="1221.5" y1="1040.2" x2="1206" y2="1031.3" stroke="#000" stroke-width="2.0" stroke-linecap="round"/>
<line x1="1225.2" y1="1035.9" x2="1209.7" y2="1027.1" stroke="#000" stroke-width="2.0" stroke-linecap="round"/>
<line x1="1228.8" y1="1031.7" x2="1221.1" y2="1027.3" stroke="#000" stroke-width="2.0" stroke-linecap="round"/>
<circle cx="1243.7" cy="1014.7" r="3.3" fill="#000"/>
<line x1="1243.7" y1="1048.2" x2="1224.9" y2="1089.1" stroke="#000" stroke-width="2.0" stroke-linecap="round"/>
<line x1="1224.9" y1="1089.1" x2="1207.5" y2="1084.9" stroke="#000" stroke-width="2.0" stroke-linecap="round"/>
<line x1="1227.2" y1="1084" x2="1209.9" y2="1079.8" stroke="#000" stroke-width="2.0" stroke-linecap="round"/>
<line x1="1229.6" y1="1078.9" x2="1212.2" y2="1074.8" stroke="#000" stroke-width="2.0" stroke-linecap="round"/>
<line x1="1231.9" y1="1073.8" x2="1214.5" y2="1069.7" stroke="#000" stroke-width="2.0" stroke-linecap="round"/>
<circle cx="1243.7" cy="1048.2" r="3.3" fill="#000"/>
<line x1="1243.7" y1="1082.1" x2="1243.6" y2="1127.1" stroke="#000" stroke-width="2.0" stroke-linecap="round"/>
<line x1="1243.6" y1="1127.1" x2="1226.1" y2="1130.6" stroke="#000" stroke-width="2.0" stroke-linecap="round"/>
<line x1="1243.6" y1="1121.5" x2="1226.1" y2="1125" stroke="#000" stroke-width="2.0" stroke-linecap="round"/>
<line x1="1243.6" y1="1115.9" x2="1226.1" y2="1119.4" stroke="#000" stroke-width="2.0" stroke-linecap="round"/>
<line x1="1243.6" y1="1110.3" x2="1226.1" y2="1113.8" stroke="#000" stroke-width="2.0" stroke-linecap="round"/>
<circle cx="1243.7" cy="1082.1" r="3.3" fill="#000"/>
<line x1="1243.7" y1="1115.3" x2="1251.7" y2="1159.6" stroke="#000" stroke-width="2.0" stroke-linecap="round"/>
<line x1="1251.7" y1="1159.6" x2="1235.1" y2="1166.1" stroke="#000" stroke-width="2.0" stroke-linecap="round"/>
<line x1="1250.7" y1="1154.1" x2="1234.1" y2="1160.6" stroke="#000" stroke-width="2.0" stroke-linecap="round"/>
<line x1="1249.7" y1="1148.6" x2="1233.1" y2="1155.1" stroke="#000" stroke-width="2.0" stroke-linecap="round"/>
<circle cx="1243.7" cy="1115.3" r="3.3" fill="#000"/>
<line x1="1243.7" y1="1133.6" x2="1240.4" y2="1178.5" stroke="#000" stroke-width="2.0" stroke-linecap="round"/>
<line x1="1240.4" y1="1178.5" x2="1222.7" y2="1180.7" stroke="#000" stroke-width="2.0" stroke-linecap="round"/>
<circle cx="1243.7" cy="1133.6" r="3.3" fill="#000"/>
<rect x="37.2" y="106" width="178.5" height="191.5" rx="3" fill="#fff" fill-opacity="0.8" stroke="#d0d0d0" stroke-width="1"/>
<line x1="42.8" y1="117.1" x2="72.5" y2="117.1" stroke="#84b4f8" stroke-width="2.2" />
<text x="82.1" y="122.1" font-size="13.8" fill="#000" >WETBULB TEMP</text>
<line x1="42.8" y1="138" x2="72.5" y2="138" stroke="#a52a2a" stroke-width="5.2" stroke-dasharray="5.2,6" stroke-opacity="0.8"/>
<text x="82.5" y="143" font-size="13.8" fill="#000" >VIRTUAL TEMP</text>
<line x1="42.8" y1="158.9" x2="72.5" y2="158.9" stroke="#6495ed" stroke-width="6.3" />
<text x="81.2" y="163.9" font-size="13.8" fill="#000" >DEWPOINT</text>
<line x1="42.8" y1="179.9" x2="72.5" y2="179.9" stroke="#ff0000" stroke-width="6.3" />
<text x="82.6" y="184.9" font-size="13.8" fill="#000" >TEMPERATURE</text>
<line x1="42.8" y1="200.8" x2="72.5" y2="200.8" stroke="#ff0000" stroke-width="3.2" stroke-dasharray="8,5"/>
<text x="81.2" y="205.8" font-size="13.8" fill="#000" >MUECAPE PARCEL</text>
<line x1="42.8" y1="221.7" x2="72.5" y2="221.7" stroke="#bdbdbd" stroke-width="2.8" stroke-dasharray="8,5"/>
<text x="81.7" y="226.7" font-size="13.8" fill="#000" >SBCAPE PARCEL</text>
<line x1="42.8" y1="242.6" x2="72.5" y2="242.6" stroke="#b0b0b0" stroke-width="2.8" stroke-dasharray="8,5"/>
<text x="81.2" y="247.6" font-size="13.8" fill="#000" >MLCAPE PARCEL</text>
<line x1="42.8" y1="263.5" x2="72.5" y2="263.5" stroke="#bdbdbd" stroke-width="2.8" stroke-dasharray="8,5"/>
<text x="81.2" y="268.5" font-size="13.8" fill="#000" >MUCAPE PARCEL</text>
<line x1="42.8" y1="284.5" x2="72.5" y2="284.5" stroke="#800080" stroke-width="1.0" stroke-dasharray="3.5,1.5"/>
<text x="81.2" y="289.5" font-size="13.8" fill="#000" >DWNDRFT PARCEL</text>
<rect x="31.6" y="98.4" width="1269.9" height="1104.8999999999999" fill="none" stroke="#000" stroke-width="1.6"/>
<rect x="1301.5" y="98.4" width="88.4" height="1104.9" fill="#fff" />
<line x1="1301.5" y1="424.1" x2="1389.9" y2="424.1" stroke="#a0a0a0" stroke-width="1.3" />
<line x1="1301.5" y1="614.6" x2="1389.9" y2="614.6" stroke="#a0a0a0" stroke-width="1.3" />
<line x1="1301.5" y1="749.8" x2="1389.9" y2="749.8" stroke="#a0a0a0" stroke-width="1.3" />
<line x1="1301.5" y1="854.7" x2="1389.9" y2="854.7" stroke="#a0a0a0" stroke-width="1.3" />
<line x1="1301.5" y1="940.3" x2="1389.9" y2="940.3" stroke="#a0a0a0" stroke-width="1.3" />
<line x1="1301.5" y1="1012.8" x2="1389.9" y2="1012.8" stroke="#a0a0a0" stroke-width="1.3" />
<line x1="1301.5" y1="1075.5" x2="1389.9" y2="1075.5" stroke="#a0a0a0" stroke-width="1.3" />
<line x1="1301.5" y1="1130.9" x2="1389.9" y2="1130.9" stroke="#a0a0a0" stroke-width="1.3" />
<line x1="1301.5" y1="1180.4" x2="1389.9" y2="1180.4" stroke="#a0a0a0" stroke-width="1.3" />
<rect x="1319.6" y="98.4" width="10.8" height="212.4" fill="#c6d6f2" stroke="#999" stroke-width="0.7" stroke-opacity="0.7"/>
<rect x="1330.4" y="310.8" width="16.1" height="232" fill="#ffaaaa" stroke="#999" stroke-width="0.7" stroke-opacity="0.7"/>
<rect x="1330.4" y="696.6" width="9.1" height="116.2" fill="#ffaaaa" stroke="#999" stroke-width="0.7" stroke-opacity="0.7"/>
<rect x="1330.4" y="812.8" width="9.1" height="92.5" fill="#ffaaaa" stroke="#999" stroke-width="0.7" stroke-opacity="0.7"/>
<rect x="1322.2" y="905.3" width="8.2" height="78.1" fill="#c6d6f2" stroke="#999" stroke-width="0.7" stroke-opacity="0.7"/>
<rect x="1330.4" y="983.4" width="40.1" height="66" fill="#ffaaaa" stroke="#999" stroke-width="0.7" stroke-opacity="0.7"/>
<rect x="1328.2" y="1049.4" width="2.2" height="58.5" fill="#c6d6f2" stroke="#999" stroke-width="0.7" stroke-opacity="0.7"/>
<line x1="1330.4" y1="98.4" x2="1330.4" y2="1203.3" stroke="#000" stroke-width="1.5" stroke-dasharray="5,3"/>
<text x="1301.3" y="172" font-size="12.7" fill="#000" font-weight="bold" >-2.2</text>
<text x="1301.3" y="640.8" font-size="12.7" fill="#000" font-weight="bold" >-0.3</text>
<text x="1301.3" y="954" font-size="12.7" fill="#000" font-weight="bold" >-1.7</text>
<text x="1301.3" y="1085.4" font-size="12.7" fill="#000" font-weight="bold" >-0.4</text>
<text x="1331" y="463.6" font-size="12.7" fill="#000" font-weight="bold" >3.4</text>
<text x="1330.8" y="769.9" font-size="12.7" fill="#000" font-weight="bold" >2.0</text>
<text x="1330.8" y="871" font-size="12.7" fill="#000" font-weight="bold" >2.0</text>
<text x="1331" y="1023.8" font-size="12.7" fill="#000" font-weight="bold" >8.4</text>
<rect x="1301.5" y="98.4" width="88.40000000000009" height="1104.8999999999999" fill="none" stroke="#000" stroke-width="1.6"/>
<clipPath id="ch"><rect x="1389.9" y="98.4" width="1022.2999999999997" height="1104.8999999999999"/></clipPath>
<rect x="1389.9" y="98.4" width="1022.3" height="1104.9" fill="#fff" />
<g clip-path="url(#ch)">
<circle cx="1705.1" cy="805.6" r="79.7" fill="none" stroke="#b8b8b8" stroke-width="1.3" stroke-dasharray="6,4"/>
<circle cx="1705.1" cy="805.6" r="159.4" fill="none" stroke="#8f8f8f" stroke-width="1.7" stroke-dasharray="9,1.2"/>
<circle cx="1705.1" cy="805.6" r="239.1" fill="none" stroke="#b8b8b8" stroke-width="1.3" stroke-dasharray="6,4"/>
<circle cx="1705.1" cy="805.6" r="318.8" fill="none" stroke="#8f8f8f" stroke-width="1.7" stroke-dasharray="9,1.2"/>
<circle cx="1705.1" cy="805.6" r="398.5" fill="none" stroke="#b8b8b8" stroke-width="1.3" stroke-dasharray="6,4"/>
<circle cx="1705.1" cy="805.6" r="478.2" fill="none" stroke="#8f8f8f" stroke-width="1.7" stroke-dasharray="9,1.2"/>
<circle cx="1705.1" cy="805.6" r="557.9" fill="none" stroke="#b8b8b8" stroke-width="1.3" stroke-dasharray="6,4"/>
<circle cx="1705.1" cy="805.6" r="637.6" fill="none" stroke="#8f8f8f" stroke-width="1.7" stroke-dasharray="9,1.2"/>
<circle cx="1705.1" cy="805.6" r="717.3" fill="none" stroke="#b8b8b8" stroke-width="1.3" stroke-dasharray="6,4"/>
<circle cx="1705.1" cy="805.6" r="797" fill="none" stroke="#8f8f8f" stroke-width="1.7" stroke-dasharray="9,1.2"/>
<circle cx="1705.1" cy="805.6" r="876.7" fill="none" stroke="#b8b8b8" stroke-width="1.3" stroke-dasharray="6,4"/>
<circle cx="1705.1" cy="805.6" r="956.4" fill="none" stroke="#8f8f8f" stroke-width="1.7" stroke-dasharray="9,1.2"/>
<circle cx="1705.1" cy="805.6" r="1036.1" fill="none" stroke="#b8b8b8" stroke-width="1.3" stroke-dasharray="6,4"/>
<line x1="1705.1" y1="98.4" x2="1705.1" y2="1203.3" stroke="#8a8a8a" stroke-width="1.3" stroke-dasharray="6,3"/>
<line x1="1389.9" y1="805.6" x2="2412.2" y2="805.6" stroke="#8a8a8a" stroke-width="1.3" stroke-dasharray="6,3"/>
<text x="1705.4" y="724.4" font-size="14.7" fill="#c8c8c8" font-weight="bold" >10</text>
<text x="1785.1" y="803.6" font-size="14.7" fill="#c8c8c8" font-weight="bold" >10</text>
<text x="1625.7" y="803.6" font-size="14.7" fill="#c8c8c8" font-weight="bold" >10</text>
<text x="1705.4" y="883.8" font-size="14.7" fill="#c8c8c8" font-weight="bold" >10</text>
<text x="1706.1" y="565" font-size="14.7" fill="#c8c8c8" font-weight="bold" >30</text>
<text x="1945.2" y="803.6" font-size="14.7" fill="#c8c8c8" font-weight="bold" >30</text>
<text x="1467" y="803.6" font-size="14.7" fill="#c8c8c8" font-weight="bold" >30</text>
<text x="1706.1" y="1043.2" font-size="14.7" fill="#c8c8c8" font-weight="bold" >30</text>
<text x="1706" y="405.6" font-size="14.7" fill="#c8c8c8" font-weight="bold" >50</text>
<text x="2104.5" y="803.6" font-size="14.7" fill="#c8c8c8" font-weight="bold" >50</text>
<text x="1706.1" y="246.2" font-size="14.7" fill="#c8c8c8" font-weight="bold" >70</text>
<text x="2264" y="803.6" font-size="14.7" fill="#c8c8c8" font-weight="bold" >70</text>
<polygon points="1711.5,738.4 1696.2,692.2 1671.8,607.7 1669.6,575.5 1677.1,555.7 1699.4,480.4 1704.3,476.3 1937.5,623.5" fill="#add8e6" fill-opacity="0.3" stroke="#add8e6" stroke-width="2" stroke-opacity="0.8"/>
<line x1="1705.1" y1="805.6" x2="1931" y2="628.5" stroke="#c8c8c8" stroke-width="5" />
<polygon points="1937.5,623.5 1922,628 1930,637" fill="#c8c8c8"/>
<polyline points="2151.9,450.6 2164.1,453 2194,460.8 2227,478.1 2278.8,511.1 2297.6,529.9" fill="none" stroke="#fdeea0" stroke-width="8.2" stroke-linejoin="round" stroke-linecap="butt"/>
<polyline points="2265.4,482 2272,495 2278.8,501.7 2292.9,518.9" fill="none" stroke="#fdeea0" stroke-width="8.2" stroke-linejoin="round" stroke-linecap="butt"/>
<polyline points="2089.1,515 2093.5,504.8 2113.9,478.1 2114.7,465.5 2121.7,457.7 2126.5,452.2 2133.5,446.7 2151.9,450.6" fill="none" stroke="#ffd700" stroke-width="8.2" stroke-linejoin="round" stroke-linecap="butt"/>
<polyline points="1870.5,519.3 1862,533 1852.3,550.7 1840,552 1819,559.5 1822,563.5 1843,564 1852.3,553 1868,547.4 1950.7,520.6 1983,521 1994.6,530 2018.1,537.8 2033.8,540.1 2060.5,552.7 2069.9,547.2 2089.1,515" fill="none" stroke="#ff8c00" stroke-width="8.2" stroke-linejoin="round" stroke-linecap="butt"/>
<polyline points="1713.4,473.3 1722.5,473 1773.8,483.7 1800.3,487.1 1826.7,492.8 1849.9,503.6 1873,501.1 1883,495.3 1891.2,503.6 1901.1,522.6 1915.2,555.7" fill="none" stroke="#ff0000" stroke-width="8.2" stroke-linejoin="round" stroke-linecap="butt"/>
<polyline points="1711.5,738.4 1696.2,692.2 1671.8,607.7 1669.6,575.5 1677.1,555.7 1699.4,480.4 1704.3,476.3 1713.4,473.3" fill="none" stroke="#800080" stroke-width="8.2" stroke-linejoin="round" stroke-linecap="butt"/>
<circle cx="1677.1" cy="555.7" r="10.3" fill="#fff" stroke="#000" stroke-width="1.8"/>
<circle cx="1713.4" cy="473.3" r="10.3" fill="#fff" stroke="#000" stroke-width="1.8"/>
<circle cx="1898.6" cy="523.4" r="10.3" fill="#fff" stroke="#000" stroke-width="1.8"/>
<circle cx="1870.5" cy="519.3" r="10.3" fill="#fff" stroke="#000" stroke-width="1.8"/>
<circle cx="1852.3" cy="550.7" r="10.3" fill="#fff" stroke="#000" stroke-width="1.8"/>
<circle cx="1995.3" cy="529.9" r="10.3" fill="#fff" stroke="#000" stroke-width="1.8"/>
<circle cx="2089.1" cy="515" r="10.3" fill="#fff" stroke="#000" stroke-width="1.8"/>
<circle cx="2126.5" cy="452.2" r="10.3" fill="#fff" stroke="#000" stroke-width="1.8"/>
<circle cx="2133.5" cy="446.7" r="10.3" fill="#fff" stroke="#000" stroke-width="1.8"/>
<circle cx="2151.9" cy="450.6" r="10.3" fill="#fff" stroke="#000" stroke-width="1.8"/>
<circle cx="2292.9" cy="518.9" r="10.3" fill="#fff" stroke="#000" stroke-width="1.8"/>
<text x="1677.1" y="560.9" font-size="14.5" fill="#000" font-weight="bold" text-anchor="middle" >.5</text>
<text x="1713.4" y="478.5" font-size="14.5" fill="#000" font-weight="bold" text-anchor="middle" >1</text>
<text x="1898.6" y="528.6" font-size="14.5" fill="#000" font-weight="bold" text-anchor="middle" >2</text>
<text x="1870.5" y="524.5" font-size="14.5" fill="#000" font-weight="bold" text-anchor="middle" >3</text>
<text x="1852.3" y="555.9" font-size="14.5" fill="#000" font-weight="bold" text-anchor="middle" >4</text>
<text x="1995.3" y="535.1" font-size="14.5" fill="#000" font-weight="bold" text-anchor="middle" >5</text>
<text x="2089.1" y="520.2" font-size="14.5" fill="#000" font-weight="bold" text-anchor="middle" >6</text>
<text x="2126.5" y="457.4" font-size="14.5" fill="#000" font-weight="bold" text-anchor="middle" >7</text>
<text x="2133.5" y="451.9" font-size="14.5" fill="#000" font-weight="bold" text-anchor="middle" >8</text>
<text x="2151.9" y="455.8" font-size="14.5" fill="#000" font-weight="bold" text-anchor="middle" >9</text>
<text x="2292.9" y="524.1" font-size="14.5" fill="#000" font-weight="bold" text-anchor="middle" >11</text>
<text x="1811.1" y="434.9" font-size="17.6" fill="#000" font-weight="bold" >LM</text>
<text x="1916.1" y="513.4" font-size="17.6" fill="#000" font-weight="bold" >MW</text>
<text x="1939.2" y="629.4" font-size="18.5" fill="#000" font-weight="bold" >RM</text>
<text x="1796.3" y="631.7" font-size="13.3" fill="#a52a2a" font-weight="bold" >DTM</text>
<polygon points="1808.6,641 1822.6,641 1815.6,653.5" fill="#a52a2a" fill-opacity="0.8"/>
<text x="2144.5" y="473.3" font-size="16.5" fill="#ffc060" font-weight="bold" fill-opacity="0.85">DN</text>
<text x="1913.8" y="771.5" font-size="16.5" fill="#ffc060" font-weight="bold" fill-opacity="0.85">UP</text>
<text x="1409.9" y="125" font-size="20.9" fill="#696969" font-weight="bold" >SM: RIGHT MOVING | NE @ 36 kts</text>
<text x="1408.9" y="155.3" font-size="20.9" fill="#696969" >RM: NE @ 36 kts</text>
<text x="1408.9" y="194.9" font-size="20.9" fill="#696969" >LM: NNE @ 48 kts</text>
<text x="1408.9" y="233.8" font-size="20.9" fill="#696969" >MW: NE @ 45 kts</text>
<text x="1402.6" y="272.6" font-size="20.9" fill="#696969" >DTM: NE @ 24 kts</text>
<text x="1409.2" y="311.5" font-size="20.9" fill="#696969" >US: E @ 28 kts</text>
<text x="1408.9" y="350.8" font-size="20.9" fill="#696969" >DS: NE @ 70 kts</text>
</g>
<rect x="1389.9" y="98.4" width="1022.2999999999997" height="1104.8999999999999" fill="none" stroke="#000" stroke-width="1.6"/>
<clipPath id="cr"><rect x="1389.5" y="943.2" width="259.70000000000005" height="259.5999999999999"/></clipPath>
<filter id="tx" x="0" y="0" width="1" height="1" filterUnits="objectBoundingBox"><feTurbulence type="fractalNoise" baseFrequency="0.32" numOctaves="2" seed="7"/><feColorMatrix type="matrix" values="0 0 0 0 0.72  0 0 0 0 0.56  0 0 0 0 0.48  1.5 0 0 0 -0.55"/></filter>
<filter id="tx2" x="0" y="0" width="1" height="1" filterUnits="objectBoundingBox"><feTurbulence type="fractalNoise" baseFrequency="0.12" numOctaves="2" seed="3"/><feColorMatrix type="matrix" values="0 0 0 0 0.46  0 0 0 0 0.49  0 0 0 0 0.48  0 1.5 0 0 -0.6"/></filter>
<g clip-path="url(#cr)">
<rect x="1389.5" y="943.2" width="259.7" height="259.6" fill="#9d8e85" />
<rect x="1389.5" y="943.2" width="259.70000000000005" height="259.5999999999999" filter="url(#tx)"/>
<rect x="1389.5" y="943.2" width="259.70000000000005" height="259.5999999999999" filter="url(#tx2)"/>
<polyline points="1463.2,954.1 1650.6,954.1" fill="none" stroke="#1a1a1a" stroke-width="1.0" stroke-linejoin="miter"/>
<polyline points="1463.2,983.2 1650.6,983.2" fill="none" stroke="#1a1a1a" stroke-width="1.0" stroke-linejoin="miter"/>
<polyline points="1463.2,1014.5 1650.6,1014.5" fill="none" stroke="#1a1a1a" stroke-width="1.0" stroke-linejoin="miter"/>
<polyline points="1463.2,1043.2 1650.6,1043.2" fill="none" stroke="#1a1a1a" stroke-width="1.0" stroke-linejoin="miter"/>
<polyline points="1463.2,1070.9 1650.6,1070.9" fill="none" stroke="#1a1a1a" stroke-width="1.0" stroke-linejoin="miter"/>
<polyline points="1463.2,1099.2 1650.6,1099.2" fill="none" stroke="#1a1a1a" stroke-width="1.0" stroke-linejoin="miter"/>
<polyline points="1463.2,1127.4 1650.6,1127.4" fill="none" stroke="#1a1a1a" stroke-width="1.0" stroke-linejoin="miter"/>
<polyline points="1520.5,943.2 1520.5,954.1" fill="none" stroke="#1a1a1a" stroke-width="1.0" stroke-linejoin="miter"/>
<polyline points="1555.4,943.2 1555.4,954.1" fill="none" stroke="#1a1a1a" stroke-width="1.0" stroke-linejoin="miter"/>
<polyline points="1590.5,943.2 1590.5,954.1" fill="none" stroke="#1a1a1a" stroke-width="1.0" stroke-linejoin="miter"/>
<polyline points="1626,943.2 1626,954.1" fill="none" stroke="#1a1a1a" stroke-width="1.0" stroke-linejoin="miter"/>
<polyline points="1496.9,954.1 1496.9,983.2" fill="none" stroke="#1a1a1a" stroke-width="1.0" stroke-linejoin="miter"/>
<polyline points="1531.4,954.1 1531.4,983.2" fill="none" stroke="#1a1a1a" stroke-width="1.0" stroke-linejoin="miter"/>
<polyline points="1565.4,954.1 1565.4,983.2" fill="none" stroke="#1a1a1a" stroke-width="1.0" stroke-linejoin="miter"/>
<polyline points="1599.3,954.1 1599.3,983.2" fill="none" stroke="#1a1a1a" stroke-width="1.0" stroke-linejoin="miter"/>
<polyline points="1633.8,954.1 1633.8,983.2" fill="none" stroke="#1a1a1a" stroke-width="1.0" stroke-linejoin="miter"/>
<polyline points="1491.4,983.2 1491.4,1014.5" fill="none" stroke="#1a1a1a" stroke-width="1.0" stroke-linejoin="miter"/>
<polyline points="1525.4,983.2 1525.4,1014.5" fill="none" stroke="#1a1a1a" stroke-width="1.0" stroke-linejoin="miter"/>
<polyline points="1559.6,983.2 1559.6,1014.5" fill="none" stroke="#1a1a1a" stroke-width="1.0" stroke-linejoin="miter"/>
<polyline points="1593.6,983.2 1593.6,1014.5" fill="none" stroke="#1a1a1a" stroke-width="1.0" stroke-linejoin="miter"/>
<polyline points="1627.8,983.2 1627.8,1014.5" fill="none" stroke="#1a1a1a" stroke-width="1.0" stroke-linejoin="miter"/>
<polyline points="1491.9,1014.5 1491.9,1043.2" fill="none" stroke="#1a1a1a" stroke-width="1.0" stroke-linejoin="miter"/>
<polyline points="1526,1014.5 1526,1043.2" fill="none" stroke="#1a1a1a" stroke-width="1.0" stroke-linejoin="miter"/>
<polyline points="1559.6,1014.5 1559.6,1043.2" fill="none" stroke="#1a1a1a" stroke-width="1.0" stroke-linejoin="miter"/>
<polyline points="1593.6,1014.5 1593.6,1043.2" fill="none" stroke="#1a1a1a" stroke-width="1.0" stroke-linejoin="miter"/>
<polyline points="1627.8,1014.5 1627.8,1043.2" fill="none" stroke="#1a1a1a" stroke-width="1.0" stroke-linejoin="miter"/>
<polyline points="1492.7,1043.2 1492.7,1070.9" fill="none" stroke="#1a1a1a" stroke-width="1.0" stroke-linejoin="miter"/>
<polyline points="1526.5,1043.2 1526.5,1070.9" fill="none" stroke="#1a1a1a" stroke-width="1.0" stroke-linejoin="miter"/>
<polyline points="1559.6,1043.2 1559.6,1070.9" fill="none" stroke="#1a1a1a" stroke-width="1.0" stroke-linejoin="miter"/>
<polyline points="1593.6,1043.2 1593.6,1070.9" fill="none" stroke="#1a1a1a" stroke-width="1.0" stroke-linejoin="miter"/>
<polyline points="1627.8,1043.2 1627.8,1070.9" fill="none" stroke="#1a1a1a" stroke-width="1.0" stroke-linejoin="miter"/>
<polyline points="1517.4,1070.9 1517.4,1099.2" fill="none" stroke="#1a1a1a" stroke-width="1.0" stroke-linejoin="miter"/>
<polyline points="1551.4,1070.9 1551.4,1099.2" fill="none" stroke="#1a1a1a" stroke-width="1.0" stroke-linejoin="miter"/>
<polyline points="1585.1,1070.9 1585.1,1099.2" fill="none" stroke="#1a1a1a" stroke-width="1.0" stroke-linejoin="miter"/>
<polyline points="1618.4,1070.9 1618.4,1099.2" fill="none" stroke="#1a1a1a" stroke-width="1.0" stroke-linejoin="miter"/>
<polyline points="1517.4,1099.2 1517.4,1127.4" fill="none" stroke="#1a1a1a" stroke-width="1.0" stroke-linejoin="miter"/>
<polyline points="1550.9,1099.2 1550.9,1127.4" fill="none" stroke="#1a1a1a" stroke-width="1.0" stroke-linejoin="miter"/>
<polyline points="1584.5,1099.2 1584.5,1127.4" fill="none" stroke="#1a1a1a" stroke-width="1.0" stroke-linejoin="miter"/>
<polyline points="1617.8,1099.2 1617.8,1127.4" fill="none" stroke="#1a1a1a" stroke-width="1.0" stroke-linejoin="miter"/>
<polyline points="1430.5,1156.5 1578.7,1156.5" fill="none" stroke="#1a1a1a" stroke-width="1.0" stroke-linejoin="miter"/>
<polyline points="1607.8,1153.3 1650.6,1153.3" fill="none" stroke="#1a1a1a" stroke-width="1.0" stroke-linejoin="miter"/>
<polyline points="1578.7,1162.4 1606.9,1162.4 1607.8,1153.3" fill="none" stroke="#1a1a1a" stroke-width="1.0" stroke-linejoin="miter"/>
<polyline points="1578.7,1165.1 1616,1165.1 1616,1204.2" fill="none" stroke="#1a1a1a" stroke-width="1.0" stroke-linejoin="miter"/>
<polyline points="1444.1,1135.1 1444.1,1156" fill="none" stroke="#1a1a1a" stroke-width="1.0" stroke-linejoin="miter"/>
<polyline points="1479.6,1127.4 1479.6,1156.5" fill="none" stroke="#1a1a1a" stroke-width="1.0" stroke-linejoin="miter"/>
<polyline points="1512.3,1127.4 1512.3,1156.5" fill="none" stroke="#1a1a1a" stroke-width="1.0" stroke-linejoin="miter"/>
<polyline points="1545.4,1127.4 1545.4,1171.4" fill="none" stroke="#1a1a1a" stroke-width="1.0" stroke-linejoin="miter"/>
<polyline points="1578.7,1127.4 1578.7,1171.4" fill="none" stroke="#1a1a1a" stroke-width="1.0" stroke-linejoin="miter"/>
<polyline points="1607.8,1127.4 1607.8,1153.3" fill="none" stroke="#1a1a1a" stroke-width="1.0" stroke-linejoin="miter"/>
<polyline points="1646.9,1127.4 1646.9,1160.5" fill="none" stroke="#1a1a1a" stroke-width="1.0" stroke-linejoin="miter"/>
<polyline points="1481.4,1156.5 1481.4,1171.4" fill="none" stroke="#1a1a1a" stroke-width="1.0" stroke-linejoin="miter"/>
<polyline points="1510.5,1156.5 1510.5,1171.4" fill="none" stroke="#1a1a1a" stroke-width="1.0" stroke-linejoin="miter"/>
<polyline points="1392.3,944.1 1392.3,964.1 1419.6,964.1 1419.6,958.6 1433.2,958.6 1433.2,953.2 1439.6,953.2 1439.6,947.7 1446.8,947.7 1446.8,943.2" fill="none" stroke="#1a1a1a" stroke-width="1.0" stroke-linejoin="miter"/>
<polyline points="1404.5,964.1 1404.5,997.8" fill="none" stroke="#1a1a1a" stroke-width="1.0" stroke-linejoin="miter"/>
<polyline points="1418.3,965 1418.3,983.2 1461.4,983.2" fill="none" stroke="#1a1a1a" stroke-width="1.0" stroke-linejoin="miter"/>
<polyline points="1389.5,997.8 1411.4,997.8 1411.4,1015 1419.6,1015 1419.6,1025.9 1433.2,1025.9 1433.2,1031.4 1461.4,1031.4" fill="none" stroke="#1a1a1a" stroke-width="1.0" stroke-linejoin="miter"/>
<polyline points="1419.6,1031.4 1419.6,1042.3 1416.8,1042.3 1416.8,1070.5 1389.5,1070.5" fill="none" stroke="#1a1a1a" stroke-width="1.0" stroke-linejoin="miter"/>
<polyline points="1413.6,1070.5 1413.6,1099.6 1419.6,1099.6 1419.6,1132.3" fill="none" stroke="#1a1a1a" stroke-width="1.0" stroke-linejoin="miter"/>
<polyline points="1398.6,1134.2 1395.9,1171.4 1394.1,1193.3 1389.5,1195.1" fill="none" stroke="#1a1a1a" stroke-width="1.0" stroke-linejoin="miter"/>
<polyline points="1403.2,1134.2 1413.2,1142.3 1414.1,1148.7 1426.8,1156.9 1433.2,1158.7 1437.7,1169.6 1448.7,1171.4" fill="none" stroke="#1a1a1a" stroke-width="1.0" stroke-linejoin="miter"/>
<polyline points="1389.5,1193.3 1410.5,1202.9" fill="none" stroke="#1a1a1a" stroke-width="1.0" stroke-linejoin="miter"/>
<polyline points="1481.4,1171.4 1486.9,1178.7" fill="none" stroke="#1a1a1a" stroke-width="1.0" stroke-linejoin="miter"/>
<polyline points="1510.5,1171.4 1503.2,1186" fill="none" stroke="#1a1a1a" stroke-width="1.0" stroke-linejoin="miter"/>
<polyline points="1462.3,943.2 1462.3,1133.3 1389.5,1133.3" fill="none" stroke="#000" stroke-width="3.2" stroke-linejoin="miter"/>
<circle cx="1519.2" cy="1136.9" r="6.2" fill="none" stroke="#000" stroke-width="2.2"/>
<line x1="1507" y1="1136.9" x2="1531.5" y2="1136.9" stroke="#000" stroke-width="2.6" />
<line x1="1519.2" y1="1125" x2="1519.2" y2="1149" stroke="#000" stroke-width="1.6" />
<rect x="1406.8" y="1172.4" width="223.4" height="26.3" fill="#fafafa" fill-opacity="0.85" stroke="#999" stroke-width="1"/>
<text x="1409.8" y="1190.5" font-size="17.8" fill="#111" font-weight="bold" >RADAR UNAVAILABLE</text>
</g>
<rect x="1389.5" y="943.2" width="259.70000000000005" height="259.5999999999999" fill="none" stroke="#000" stroke-width="1.6"/>
<rect x="2192.6" y="1021.6" width="219.6" height="181.6" fill="#fff" stroke="#000" stroke-width="1.8"/>
<text x="2209.4" y="1049" font-size="17" fill="#111" font-weight="bold" >0-3<tspan font-size="12" letter-spacing="1.5">km</tspan> SRH,</text>
<text x="2337.2" y="1049" font-size="17" fill="#111" font-weight="bold" >BWD</text>
<text x="2209.6" y="1079.1" font-size="17" fill="#4169e1" font-weight="bold" >361 m²/s²</text>
<text x="2334.8" y="1079.1" font-size="17" fill="#4169e1" font-weight="bold" >33 kt</text>
<text x="2209.4" y="1108.6" font-size="17" fill="#111" font-weight="bold" >0-6<tspan font-size="12" letter-spacing="1.5">km</tspan> SRH,</text>
<text x="2337.2" y="1108.6" font-size="17" fill="#111" font-weight="bold" >BWD</text>
<text x="2209.9" y="1136.4" font-size="17" fill="#4169e1" font-weight="bold" >426 m²/s²</text>
<text x="2334.6" y="1136.4" font-size="17" fill="#4169e1" font-weight="bold" >54 kt</text>
<text x="2202.6" y="1167.7" font-size="17" fill="#111" font-weight="bold" >SCP</text>
<text x="2257.8" y="1167.7" font-size="17" fill="#111" font-weight="bold" >STP</text>
<text x="2315.4" y="1165.5" font-size="17" fill="#111" font-weight="bold" >EHI</text>
<text x="2370.3" y="1165.5" font-size="17" fill="#111" font-weight="bold" >EHI</text>
<text x="2311.8" y="1177" font-size="11.2" fill="#111" font-weight="bold" >0–1km</text>
<text x="2366.7" y="1177" font-size="11.2" fill="#111" font-weight="bold" >0–3km</text>
<text x="2209.4" y="1192.9" font-size="17" fill="#b22222" font-weight="bold" >23</text>
<text x="2270.9" y="1192.9" font-size="17" fill="#b22222" font-weight="bold" >7</text>
<text x="2325.8" y="1192.9" font-size="17" fill="#ff4500" font-weight="bold" >7</text>
<text x="2380.8" y="1192.9" font-size="17" fill="#ff4500" font-weight="bold" >8</text>
<rect x="31.2" y="1203.7" width="893" height="233.3" fill="#fff" stroke="#000" stroke-width="1.8"/>
<rect x="924.3" y="1203.7" width="330.1" height="298.5" fill="#fff" stroke="#000" stroke-width="1.8"/>
<rect x="1254.5" y="1203.7" width="583" height="298.5" fill="#fff" stroke="#000" stroke-width="1.8"/>
<text x="131.4" y="1242.6" font-size="20.4" fill="#000" font-weight="bold" >SR-ECAPE</text>
<text x="296.7" y="1242.6" font-size="20.4" fill="#000" font-weight="bold" >CAPE</text>
<text x="422.9" y="1242.6" font-size="20.4" fill="#000" font-weight="bold" >6CAPE</text>
<text x="563.6" y="1242.6" font-size="20.4" fill="#000" font-weight="bold" >3CAPE</text>
<text x="711.4" y="1242.6" font-size="20.4" fill="#000" font-weight="bold" >CIN</text>
<text x="838.3" y="1242.6" font-size="20.4" fill="#000" font-weight="bold" >LCL</text>
<text x="44.6" y="1281.8" font-size="20.4" fill="#000" font-weight="bold" >SB:</text>
<text x="131.5" y="1281.8" font-size="20.4" fill="#b22222" font-weight="bold" >3151 J/kg</text>
<text x="274.5" y="1281.8" font-size="20.4" fill="#ff4500" font-weight="bold" >3923 J/kg</text>
<text x="417.5" y="1281.8" font-size="20.4" fill="#ff4500" font-weight="bold" >884 J/kg</text>
<text x="558.7" y="1281.8" font-size="20.4" fill="#ff4500" font-weight="bold" >72 J/kg</text>
<text x="692.5" y="1281.8" font-size="20.4" fill="#ff4500" font-weight="bold" >-28 J/kg</text>
<text x="823.9" y="1281.8" font-size="20.4" fill="#ff4500" font-weight="bold" >388 m</text>
<text x="44.2" y="1320.7" font-size="20.4" fill="#000" font-weight="bold" >MU:</text>
<text x="131.5" y="1320.7" font-size="20.4" fill="#b22222" font-weight="bold" >3151 J/kg</text>
<text x="274.5" y="1320.7" font-size="20.4" fill="#ff4500" font-weight="bold" >3923 J/kg</text>
<text x="417.5" y="1320.7" font-size="20.4" fill="#ff4500" font-weight="bold" >884 J/kg</text>
<text x="558.7" y="1320.7" font-size="20.4" fill="#ff4500" font-weight="bold" >72 J/kg</text>
<text x="692.5" y="1320.7" font-size="20.4" fill="#ff4500" font-weight="bold" >-28 J/kg</text>
<text x="823.9" y="1320.7" font-size="20.4" fill="#ff4500" font-weight="bold" >388 m</text>
<text x="44.2" y="1359.1" font-size="20.4" fill="#000" font-weight="bold" >ML:</text>
<text x="131.3" y="1359.1" font-size="20.4" fill="#b22222" font-weight="bold" >2276 J/kg</text>
<text x="274.5" y="1359.1" font-size="20.4" fill="#ff4500" font-weight="bold" >3087 J/kg</text>
<text x="417.4" y="1359.1" font-size="20.4" fill="#ff4500" font-weight="bold" >683 J/kg</text>
<text x="558.5" y="1359.1" font-size="20.4" fill="#ff4500" font-weight="bold" >21 J/kg</text>
<text x="692.5" y="1359.1" font-size="20.4" fill="#ff4500" font-weight="bold" >-65 J/kg</text>
<text x="824" y="1359.1" font-size="20.4" fill="#ff4500" font-weight="bold" >662 m</text>
<text x="44.2" y="1393.4" font-size="20.4" fill="#000" font-weight="bold" >DCAPE:</text>
<text x="141.7" y="1393.4" font-size="20.4" fill="#8fb0ee" font-weight="bold" >1360 J/kg</text>
<text x="44.2" y="1419.4" font-size="20.4" fill="#000" font-weight="bold" >DCIN:</text>
<text x="143" y="1419.4" font-size="20.4" fill="#8fb0ee" font-weight="bold" >0 J/kg</text>
<text x="286.4" y="1412.7" font-size="20.4" fill="#000" font-weight="bold" >MUNCAPE:</text>
<text x="413.8" y="1412.7" font-size="20.4" fill="#c07070" font-weight="bold" >0.4</text>
<text x="494.2" y="1412.7" font-size="20.4" fill="#000" font-weight="bold" >Γ<tspan font-size="12" dy="3">0–3</tspan><tspan dy="-3">:</tspan></text>
<text x="560.5" y="1412.7" font-size="20.4" fill="#8b4513" font-weight="bold" >6 Δ°C/km</text>
<text x="692.3" y="1412.7" font-size="20.4" fill="#000" font-weight="bold" >Γ<tspan font-size="12" dy="3">3–6</tspan><tspan dy="-3">:</tspan></text>
<text x="765.2" y="1412.7" font-size="20.4" fill="#8b4513" font-weight="bold" >7 Δ°C/km</text>
<text x="1039.8" y="1243.3" font-size="20.4" fill="#000" font-weight="bold" >RH(%)</text>
<text x="1164.1" y="1243.3" font-size="20.4" fill="#000" font-weight="bold" >ω</text>
<text x="945.7" y="1281" font-size="20.4" fill="#000" font-weight="bold" >0-.5<tspan font-size="13" letter-spacing="1.2">km</tspan>:</text>
<line x1="949" y1="1259.6" x2="980" y2="1259.6" stroke="#000" stroke-width="1.6" />
<text x="1044" y="1281" font-size="20.4" fill="#228b22" font-weight="bold" >82 %</text>
<text x="1121" y="1281" font-size="20.4" fill="#228b22" font-weight="bold" >15.2 g/kg</text>
<text x="945.7" y="1320.4" font-size="20.4" fill="#000" font-weight="bold" >0-1<tspan font-size="13" letter-spacing="1.2">km</tspan>:</text>
<line x1="949" y1="1299" x2="980" y2="1299" stroke="#000" stroke-width="1.6" />
<text x="1044" y="1320.4" font-size="20.4" fill="#2f922f" font-weight="bold" >86 %</text>
<text x="1121" y="1320.4" font-size="20.4" fill="#2f922f" font-weight="bold" >14.6 g/kg</text>
<text x="944.4" y="1359.6" font-size="20.4" fill="#000" font-weight="bold" >1-3<tspan font-size="13" letter-spacing="1.2">km</tspan>:</text>
<line x1="949" y1="1338.2" x2="980" y2="1338.2" stroke="#000" stroke-width="1.6" />
<text x="1044.3" y="1359.6" font-size="20.4" fill="#4da44d" font-weight="bold" >46 %</text>
<text x="1122" y="1359.6" font-size="20.4" fill="#4da44d" font-weight="bold" >6.3 g/kg</text>
<text x="945.3" y="1398.1" font-size="20.4" fill="#000" font-weight="bold" >3-6<tspan font-size="13" letter-spacing="1.2">km</tspan>:</text>
<line x1="949" y1="1376.7" x2="980" y2="1376.7" stroke="#000" stroke-width="1.6" />
<text x="1043.6" y="1398.1" font-size="20.4" fill="#66b066" font-weight="bold" >25 %</text>
<text x="1121" y="1398.1" font-size="20.4" fill="#66b066" font-weight="bold" >1.5 g/kg</text>
<text x="945.4" y="1437.1" font-size="20.4" fill="#000" font-weight="bold" >6-9<tspan font-size="13" letter-spacing="1.2">km</tspan>:</text>
<line x1="949" y1="1415.7" x2="980" y2="1415.7" stroke="#000" stroke-width="1.6" />
<text x="1043.8" y="1437.1" font-size="20.4" fill="#78bb78" font-weight="bold" >38 %</text>
<text x="1122.3" y="1437.1" font-size="20.4" fill="#78bb78" font-weight="bold" >0.3 g/kg</text>
<text x="945.2" y="1466.9" font-size="16.2" fill="#000" font-weight="bold" >PWAT:</text>
<text x="1017.4" y="1466.9" font-size="16.2" fill="#006400" font-weight="bold" >1.151 in</text>
<text x="1115.5" y="1466.9" font-size="16.2" fill="#000" font-weight="bold" >WB:</text>
<text x="1174.5" y="1466.9" font-size="16.2" fill="#006400" font-weight="bold" >20 °C</text>
<text x="945.2" y="1492.5" font-size="16.2" fill="#000" font-weight="bold" >FRZ:</text>
<text x="1025.4" y="1492.5" font-size="16.2" fill="#6495ed" font-weight="bold" >3800m</text>
<text x="1109.3" y="1492.5" font-size="16.2" fill="#000" font-weight="bold" >WB0:</text>
<text x="1169.5" y="1492.5" font-size="16.2" fill="#6495ed" font-weight="bold" >2900m</text>
<text x="1374.6" y="1242.6" font-size="20.4" fill="#333" font-weight="bold" >BWD</text>
<text x="1480.3" y="1242.6" font-size="20.4" fill="#333" font-weight="bold" >SRH</text>
<text x="1579.5" y="1242.6" font-size="20.4" fill="#333" font-weight="bold" >SRW</text>
<text x="1655.2" y="1242.6" font-size="20.4" fill="#333" font-weight="bold" >SWζ%</text>
<text x="1755.6" y="1242.6" font-size="20.4" fill="#333" font-weight="bold" >SWζ</text>
<text x="1273.8" y="1281.8" font-size="20.4" fill="#111" font-weight="bold" >0-.5<tspan font-size="13" letter-spacing="1.2">km</tspan>:</text>
<text x="1368.7" y="1281.8" font-size="20.4" fill="#6495ed" font-weight="bold" >22 kt</text>
<text x="1449" y="1281.8" font-size="20.4" fill="#6495ed" font-weight="bold" >195 m²/s²</text>
<text x="1579.6" y="1281.8" font-size="20.4" fill="#6495ed" font-weight="bold" >32 kt</text>
<text x="1686" y="1281.8" font-size="20.4" fill="#6495ed" font-weight="bold" text-anchor="middle" >98</text>
<text x="1748.6" y="1281.8" font-size="20.4" fill="#6495ed" font-weight="bold" >0.025</text>
<text x="1273.8" y="1321" font-size="20.4" fill="#111" font-weight="bold" >0-1<tspan font-size="13" letter-spacing="1.2">km</tspan>:</text>
<text x="1368.9" y="1321" font-size="20.4" fill="#6495ed" font-weight="bold" >32 kt</text>
<text x="1449.7" y="1321" font-size="20.4" fill="#6495ed" font-weight="bold" >297 m²/s²</text>
<text x="1579.6" y="1321" font-size="20.4" fill="#6495ed" font-weight="bold" >32 kt</text>
<text x="1686" y="1321" font-size="20.4" fill="#6495ed" font-weight="bold" text-anchor="middle" >98</text>
<text x="1748.6" y="1321" font-size="20.4" fill="#6495ed" font-weight="bold" >0.019</text>
<text x="1272.5" y="1359.1" font-size="20.4" fill="#111" font-weight="bold" >1-3<tspan font-size="13" letter-spacing="1.2">km</tspan>:</text>
<text x="1368.7" y="1359.1" font-size="20.4" fill="#6495ed" font-weight="bold" >20 kt</text>
<text x="1450" y="1359.1" font-size="20.4" fill="#6495ed" font-weight="bold" >64 m²/s²</text>
<text x="1579.4" y="1359.1" font-size="20.4" fill="#6495ed" font-weight="bold" >24 kt</text>
<text x="1686" y="1359.1" font-size="20.4" fill="#6495ed" font-weight="bold" text-anchor="middle" >45</text>
<text x="1748.6" y="1359.1" font-size="20.4" fill="#6495ed" font-weight="bold" >0.005</text>
<text x="1273.4" y="1398.3" font-size="20.4" fill="#111" font-weight="bold" >3-6<tspan font-size="13" letter-spacing="1.2">km</tspan>:</text>
<text x="1368.7" y="1398.3" font-size="20.4" fill="#6495ed" font-weight="bold" >27 kt</text>
<text x="1450" y="1398.3" font-size="20.4" fill="#6495ed" font-weight="bold" >64 m²/s²</text>
<text x="1578.7" y="1398.3" font-size="20.4" fill="#6495ed" font-weight="bold" >19 kt</text>
<text x="1686" y="1398.3" font-size="20.4" fill="#6495ed" font-weight="bold" text-anchor="middle" >80</text>
<text x="1748.6" y="1398.3" font-size="20.4" fill="#6495ed" font-weight="bold" >0.007</text>
<text x="1273.5" y="1436.8" font-size="20.4" fill="#111" font-weight="bold" >6-9<tspan font-size="13" letter-spacing="1.2">km</tspan>:</text>
<text x="1368" y="1436.8" font-size="20.4" fill="#6495ed" font-weight="bold" >11 kt</text>
<text x="1450.2" y="1436.8" font-size="20.4" fill="#6495ed" font-weight="bold" >-4 m²/s²</text>
<text x="1579.4" y="1436.8" font-size="20.4" fill="#6495ed" font-weight="bold" >29 kt</text>
<text x="1686" y="1436.8" font-size="20.4" fill="#6495ed" font-weight="bold" text-anchor="middle" >20</text>
<text x="1748.6" y="1436.8" font-size="20.4" fill="#6495ed" font-weight="bold" >0.001</text>
<text x="1272.9" y="1476.4" font-size="20.4" fill="#111" font-weight="bold" >EIL:</text>
<text x="1368.9" y="1476.4" font-size="20.4" fill="#6495ed" font-weight="bold" >33 kt</text>
<text x="1449.7" y="1476.4" font-size="20.4" fill="#6495ed" font-weight="bold" >293 m²/s²</text>
<text x="1579.6" y="1476.4" font-size="20.4" fill="#6495ed" font-weight="bold" >33 kt</text>
<text x="1686" y="1476.4" font-size="20.4" fill="#6495ed" font-weight="bold" text-anchor="middle" >98</text>
<text x="1748.6" y="1476.4" font-size="20.4" fill="#6495ed" font-weight="bold" >0.019</text>
<clipPath id="cpa"><rect x="1837.9" y="1203.7" width="142.5" height="298.20000000000005"/></clipPath>
<clipPath id="cpb"><rect x="1980.4" y="1203.7" width="144.0999999999999" height="298.20000000000005"/></clipPath>
<clipPath id="cpc"><rect x="2124.5" y="1203.7" width="144.9000000000001" height="298.20000000000005"/></clipPath>
<clipPath id="cpd"><rect x="2269.4" y="1203.7" width="142.9000000000001" height="298.20000000000005"/></clipPath>
<rect x="1837.9" y="1203.7" width="574.4" height="298.2" fill="#fff" />
<rect x="1837.9" y="1405.4" width="574.4" height="96.5" fill="#eef5fa" />
<g clip-path="url(#cpa)">
<polygon points="1837.9,1203 1949.8,1203 1949.8,1204.4 1938.3,1213.3 1968.5,1223.1 1838.3,1231.5 1820,1232 1820,1310 1838.3,1310.6 1850.8,1313.8 1933.1,1322.1 1948.8,1332.5 1892.5,1341.9 1869.6,1352.3 1879,1362.7 1866.5,1373.1 1845.6,1383.5 1838.3,1391.9 1902.9,1402.3 1975.8,1412.7 1972.7,1422.1 1974.8,1438.8 1974.8,1462.7 1966.5,1472.1 1975.8,1492.9 1972.7,1503 1837.9,1503" fill="#c3cff5" fill-opacity="0.55"/>
<polyline points="1949.8,1203 1949.8,1204.4 1938.3,1213.3 1968.5,1223.1 1838.3,1231.5 1820,1232 1820,1310 1838.3,1310.6 1850.8,1313.8 1933.1,1322.1 1948.8,1332.5 1892.5,1341.9 1869.6,1352.3 1879,1362.7 1866.5,1373.1 1845.6,1383.5 1838.3,1391.9 1902.9,1402.3" fill="none" stroke="#ff0000" stroke-width="4.2" stroke-linejoin="round"/>
<polyline points="1902.9,1402.3 1975.8,1412.7 1972.7,1422.1 1974.8,1438.8 1974.8,1462.7 1966.5,1472.1 1975.8,1492.9 1972.7,1503" fill="none" stroke="#800080" stroke-width="4.2" stroke-linejoin="round"/>
</g>
<g clip-path="url(#cpb)">
<polygon points="1997.7,1203 1997.7,1204.4 1996.7,1212.7 1990.4,1224.2 1984.2,1236.7 1983.1,1282.5 1988.3,1303.3 1995.6,1322.1 1996.7,1340.8 2006,1362.7 1992.5,1389.8 2001.9,1409.6 2002.9,1407.5 2005,1402.3 2013.3,1381.5 2024.8,1362.7 2021.7,1353.3 1997.7,1334.6 1996.7,1324.2 2013.3,1303.3 2009.2,1292.9 1984.2,1283.5 1998.8,1270 1999.8,1233.5 1992.5,1224.2 1997.7,1215.8 1999.8,1204.4 1999.8,1203" fill="#d8d8d8" fill-opacity="0.6"/>
<polygon points="1980.4,1203 1997.7,1203 1997.7,1204.4 1996.7,1212.7 1990.4,1224.2 1984.2,1236.7 1983.1,1282.5 1988.3,1303.3 1995.6,1322.1 1996.7,1340.8 2006,1362.7 1992.5,1389.8 2001.9,1409.6 2011.2,1422.1 2011.2,1451.2 2019.6,1463.8 2040.4,1474.2 2049.8,1482.5 2048.8,1503 1980.4,1503" fill="#deb887" fill-opacity="0.5"/>
<polyline points="1999.8,1203 1999.8,1204.4 1997.7,1215.8 1992.5,1224.2 1999.8,1233.5 1998.8,1270 1984.2,1283.5 2009.2,1292.9 2013.3,1303.3 1996.7,1324.2 1997.7,1334.6 2021.7,1353.3 2024.8,1362.7 2013.3,1381.5 2005,1402.3 2002.9,1407.5" fill="none" stroke="#8c8c8c" stroke-width="4.2" stroke-opacity="0.85" stroke-linejoin="round"/>
<polyline points="1997.7,1203 1997.7,1204.4 1996.7,1212.7 1990.4,1224.2 1984.2,1236.7 1983.1,1282.5 1988.3,1303.3 1995.6,1322.1 1996.7,1340.8 2006,1362.7 1992.5,1389.8 2001.9,1409.6" fill="none" stroke="#ffa500" stroke-width="3.6" stroke-opacity="0.85" stroke-linejoin="round"/>
<polyline points="2001.9,1409.6 2011.2,1422.1 2011.2,1451.2 2019.6,1463.8 2040.4,1474.2 2049.8,1482.5 2048.8,1503" fill="none" stroke="#8b6a1e" stroke-width="4.6" stroke-opacity="0.9" stroke-linejoin="round"/>
</g>
<g clip-path="url(#cpc)">
<polygon points="2124.5,1203 2144,1203 2144,1204.4 2151.2,1222.1 2139.8,1242.9 2125.2,1274.2 2125.2,1287.7 2146,1312.7 2154.4,1341.9 2184.6,1372.1 2211.7,1402.3 2212.7,1412.7 2209.6,1438.8 2211.7,1461.7 2203.3,1478.3 2202.3,1503 2124.5,1503" fill="#c3cff5" fill-opacity="0.55"/>
<polyline points="2144,1203 2144,1204.4 2151.2,1222.1 2139.8,1242.9 2125.2,1274.2 2125.2,1287.7 2146,1312.7 2154.4,1341.9 2184.6,1372.1 2211.7,1402.3" fill="none" stroke="#ff2020" stroke-width="4.2" stroke-opacity="0.9" stroke-linejoin="round"/>
<polyline points="2211.7,1402.3 2212.7,1412.7 2209.6,1438.8 2211.7,1461.7 2203.3,1478.3 2202.3,1503" fill="none" stroke="#800080" stroke-width="4.2" stroke-opacity="0.8" stroke-linejoin="round"/>
</g>
<g clip-path="url(#cpd)">
<polygon points="2339.8,1314.8 2326.2,1332.5 2311.7,1342.9 2295,1353.3 2299.2,1361.7 2313.8,1405.4 2324.2,1442.9 2325.2,1492.9 2332.5,1501.9 2339.8,1501.9" fill="#5f9ea0" fill-opacity="0.75"/>
<polygon points="2339.8,1314.8 2360.6,1344 2372.1,1353.3 2378.3,1363.8 2412.3,1440.8 2412.3,1501.9 2339.8,1501.9" fill="#f7923a" fill-opacity="0.95"/>
<line x1="2339.8" y1="1203.7" x2="2339.8" y2="1501.9" stroke="#1f77b4" stroke-width="2" stroke-dasharray="2,3.3"/>
</g>
<line x1="1837.9" y1="1253.3" x2="2412.3" y2="1253.3" stroke="#a0a0a0" stroke-width="1.3" />
<line x1="1837.9" y1="1303.3" x2="2412.3" y2="1303.3" stroke="#a0a0a0" stroke-width="1.3" />
<line x1="1837.9" y1="1353.3" x2="2412.3" y2="1353.3" stroke="#a0a0a0" stroke-width="1.3" />
<line x1="1837.9" y1="1403.3" x2="2412.3" y2="1403.3" stroke="#a0a0a0" stroke-width="1.3" />
<line x1="1837.9" y1="1453.3" x2="2412.3" y2="1453.3" stroke="#a0a0a0" stroke-width="1.3" />
<text x="1909.8" y="1226.7" font-size="13.8" fill="#111" font-weight="bold" text-anchor="middle" >Streamwiseness</text>
<text x="1909.8" y="1242.5" font-size="13.8" fill="#111" font-weight="bold" text-anchor="middle" >of ζ (%)</text>
<text x="2052.9" y="1233.5" font-size="16.4" fill="#111" font-weight="bold" text-anchor="middle" >Total ζ &amp;</text>
<text x="2052.9" y="1251.2" font-size="16.4" fill="#111" font-weight="bold" text-anchor="middle" >Streamwise ζ</text>
<text x="2052.9" y="1267.9" font-size="16.4" fill="#111" font-weight="bold" text-anchor="middle" >(/sec)</text>
<text x="2196" y="1238.8" font-size="16.4" fill="#111" font-weight="bold" text-anchor="middle" >Storm Relative</text>
<text x="2196" y="1255.4" font-size="16.4" fill="#111" font-weight="bold" text-anchor="middle" >Wind (kts)</text>
<text x="2338.75" y="1233.5" font-size="16.4" fill="#111" font-weight="bold" text-anchor="middle">Stepwise</text>
<text x="2338.75" y="1251.7" font-size="16.4" fill="#111" font-weight="bold" text-anchor="middle">CIN &amp; CAPE</text>
<text x="2338.75" y="1269" font-size="16.4" fill="#111" font-weight="bold" text-anchor="middle">(J/kg)</text>
<text x="2268.6" y="1269.6" font-size="11.8" fill="#000" font-weight="bold" text-anchor="end" >-LFC-</text>
<text x="2268.6" y="1463.3" font-size="11.8" fill="#000" font-weight="bold" text-anchor="end" >-LCL-</text>
<text x="1852.2" y="1302.7" font-size="13.5" fill="#000" font-weight="bold" >2 km</text>
<text x="1851.8" y="1352.7" font-size="13.5" fill="#000" font-weight="bold" >1.5 km</text>
<text x="1851.8" y="1402.7" font-size="13.5" fill="#000" font-weight="bold" >1 km</text>
<text x="1851.9" y="1452.7" font-size="13.5" fill="#000" font-weight="bold" >.5 km</text>
<line x1="1861.2" y1="1501.9" x2="1861.2" y2="1498.9" stroke="#000" stroke-width="1" />
<text x="1860.2" y="1496" font-size="14" fill="#7a7a7a" font-weight="bold" text-anchor="middle" font-style="italic">50</text>
<line x1="1907.5" y1="1501.9" x2="1907.5" y2="1498.9" stroke="#000" stroke-width="1" />
<text x="1906.5" y="1496" font-size="14" fill="#7a7a7a" font-weight="bold" text-anchor="middle" font-style="italic">70</text>
<line x1="1953.9" y1="1501.9" x2="1953.9" y2="1498.9" stroke="#000" stroke-width="1" />
<text x="1952.9" y="1496" font-size="14" fill="#7a7a7a" font-weight="bold" text-anchor="middle" font-style="italic">90</text>
<line x1="2005.6" y1="1501.9" x2="2005.6" y2="1498.9" stroke="#000" stroke-width="1" />
<text x="2004.6" y="1496" font-size="14" fill="#7a7a7a" font-weight="bold" text-anchor="middle" font-style="italic">.01</text>
<line x1="2053.5" y1="1501.9" x2="2053.5" y2="1498.9" stroke="#000" stroke-width="1" />
<text x="2052.5" y="1496" font-size="14" fill="#7a7a7a" font-weight="bold" text-anchor="middle" font-style="italic">.03</text>
<line x1="2102.9" y1="1501.9" x2="2102.9" y2="1498.9" stroke="#000" stroke-width="1" />
<text x="2101.9" y="1496" font-size="14" fill="#7a7a7a" font-weight="bold" text-anchor="middle" font-style="italic">.05</text>
<line x1="2161.6" y1="1501.9" x2="2161.6" y2="1498.9" stroke="#000" stroke-width="1" />
<text x="2159.6" y="1496" font-size="14" fill="#7a7a7a" font-weight="bold" text-anchor="middle" font-style="italic">20</text>
<line x1="2198" y1="1501.9" x2="2198" y2="1498.9" stroke="#000" stroke-width="1" />
<text x="2196" y="1496" font-size="14" fill="#7a7a7a" font-weight="bold" text-anchor="middle" font-style="italic">30</text>
<line x1="2235.5" y1="1501.9" x2="2235.5" y2="1498.9" stroke="#000" stroke-width="1" />
<text x="2233.5" y="1496" font-size="14" fill="#7a7a7a" font-weight="bold" text-anchor="middle" font-style="italic">40</text>
<line x1="2292.5" y1="1501.9" x2="2292.5" y2="1498.9" stroke="#000" stroke-width="1" />
<text x="0" y="0" font-size="14" fill="#7a7a7a" font-weight="bold" font-style="italic" text-anchor="middle" transform="translate(2295.5,1491) rotate(-45)">-200</text>
<line x1="2316.2" y1="1501.9" x2="2316.2" y2="1498.9" stroke="#000" stroke-width="1" />
<text x="0" y="0" font-size="14" fill="#7a7a7a" font-weight="bold" font-style="italic" text-anchor="middle" transform="translate(2319.2,1491) rotate(-45)">-100</text>
<line x1="2340.2" y1="1501.9" x2="2340.2" y2="1498.9" stroke="#000" stroke-width="1" />
<text x="0" y="0" font-size="14" fill="#7a7a7a" font-weight="bold" font-style="italic" text-anchor="middle" transform="translate(2343.2,1491) rotate(-45)">0</text>
<line x1="2364.2" y1="1501.9" x2="2364.2" y2="1498.9" stroke="#000" stroke-width="1" />
<text x="0" y="0" font-size="14" fill="#7a7a7a" font-weight="bold" font-style="italic" text-anchor="middle" transform="translate(2367.2,1491) rotate(-45)">1k</text>
<line x1="2388.1" y1="1501.9" x2="2388.1" y2="1498.9" stroke="#000" stroke-width="1" />
<text x="0" y="0" font-size="14" fill="#7a7a7a" font-weight="bold" font-style="italic" text-anchor="middle" transform="translate(2391.1,1491) rotate(-45)">2k</text>
<rect x="1837.9" y="1203.7" width="142.5" height="298.2" fill="none" stroke="#000" stroke-width="1.8"/>
<rect x="1980.4" y="1203.7" width="144.1" height="298.2" fill="none" stroke="#000" stroke-width="1.8"/>
<rect x="2124.5" y="1203.7" width="144.9" height="298.2" fill="none" stroke="#000" stroke-width="1.8"/>
<rect x="2269.4" y="1203.7" width="142.9" height="298.2" fill="none" stroke="#000" stroke-width="1.8"/>
<text x="133.2" y="1470.2" font-size="27.7" fill="#a2bdf0" font-weight="bold" >SOUNDERPY VERTICAL PROFILE ANALYSIS TOOL</text>
<text x="226.3" y="1497" font-size="20.8" fill="#a2bdf0" font-weight="bold" >KYLE J GILLETT | sounderpysoundings.anvil.app</text>
<circle cx="77.4" cy="1475.9" r="32" fill="#e4e9f4" stroke="#2a2a2a" stroke-width="1.6"/>
<polyline points="62,1455 66,1468 61,1480 68,1490 64,1500" fill="none" stroke="#8c8" stroke-width="1" stroke-opacity="0.7"/>
<polyline points="84,1447 88,1462 93,1478 99,1498" fill="none" stroke="#e88" stroke-width="1" stroke-opacity="0.6"/>
<text x="47.9" y="1473.4" font-size="12.5" fill="#000" font-weight="bold" textLength="55.4" lengthAdjust="spacingAndGlyphs">SOUNDER</text>
<text x="78.5" y="1489.1" font-size="21.5" fill="#3a9a3a" textLength="12.5" lengthAdjust="spacingAndGlyphs">P</text>
<text x="92.3" y="1489.1" font-size="21.5" fill="#e01010" textLength="16" lengthAdjust="spacingAndGlyphs">Y</text>
<text x="57.9" y="1499" font-size="4.2" fill="#000" font-weight="bold" textLength="38" lengthAdjust="spacingAndGlyphs">SOUNDING ANALYSIS TOOL</text>
<text x="65" y="1503.5" font-size="4.2" fill="#000" font-weight="bold" textLength="24" lengthAdjust="spacingAndGlyphs">IN PYTHON</text>
</svg></body></html>
